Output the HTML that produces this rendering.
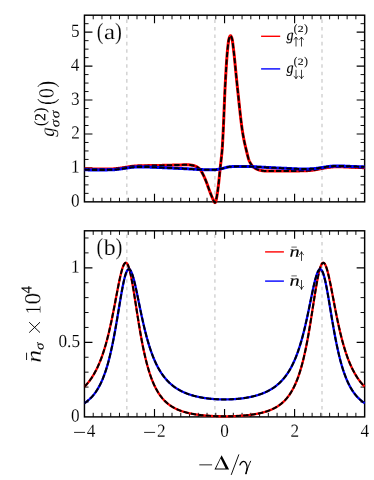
<!DOCTYPE html>
<html><head><meta charset="utf-8"><title>figure</title>
<style>html,body{margin:0;padding:0;background:#fff}body{width:374px;height:480px;overflow:hidden;font-family:"Liberation Serif",serif}</style>
</head><body>
<svg width="374" height="480" viewBox="0 0 374 480" style="display:block">
<rect width="374" height="480" fill="#fff"/>
<defs><clipPath id="ca"><rect x="83.65" y="12.60" width="281.80" height="191.85"/></clipPath><clipPath id="cb"><rect x="83.65" y="228.20" width="281.80" height="191.30"/></clipPath></defs>
<line x1="126.8" y1="201.85" x2="126.8" y2="15.2" stroke="#d2d2d2" stroke-width="1.45" stroke-dasharray="3.55 3.9"/>
<line x1="214.9" y1="201.85" x2="214.9" y2="15.2" stroke="#d2d2d2" stroke-width="1.45" stroke-dasharray="3.55 3.9"/>
<line x1="322.0" y1="201.85" x2="322.0" y2="15.2" stroke="#d2d2d2" stroke-width="1.45" stroke-dasharray="3.55 3.9"/>
<path d="M93.21,201.85 v-4.1 M93.21,15.2 v4.1" stroke="#000" stroke-width="0.95"/>
<path d="M101.96,201.85 v-4.1 M101.96,15.2 v4.1" stroke="#000" stroke-width="0.95"/>
<path d="M110.72,201.85 v-4.1 M110.72,15.2 v4.1" stroke="#000" stroke-width="0.95"/>
<path d="M119.47,201.85 v-4.1 M119.47,15.2 v4.1" stroke="#000" stroke-width="0.95"/>
<path d="M128.23,201.85 v-4.1 M128.23,15.2 v4.1" stroke="#000" stroke-width="0.95"/>
<path d="M136.99,201.85 v-4.1 M136.99,15.2 v4.1" stroke="#000" stroke-width="0.95"/>
<path d="M145.74,201.85 v-4.1 M145.74,15.2 v4.1" stroke="#000" stroke-width="0.95"/>
<path d="M154.50,201.85 v-8.0 M154.50,15.2 v8.0" stroke="#000" stroke-width="1.15"/>
<path d="M163.26,201.85 v-4.1 M163.26,15.2 v4.1" stroke="#000" stroke-width="0.95"/>
<path d="M172.01,201.85 v-4.1 M172.01,15.2 v4.1" stroke="#000" stroke-width="0.95"/>
<path d="M180.77,201.85 v-4.1 M180.77,15.2 v4.1" stroke="#000" stroke-width="0.95"/>
<path d="M189.52,201.85 v-4.1 M189.52,15.2 v4.1" stroke="#000" stroke-width="0.95"/>
<path d="M198.28,201.85 v-4.1 M198.28,15.2 v4.1" stroke="#000" stroke-width="0.95"/>
<path d="M207.04,201.85 v-4.1 M207.04,15.2 v4.1" stroke="#000" stroke-width="0.95"/>
<path d="M215.79,201.85 v-4.1 M215.79,15.2 v4.1" stroke="#000" stroke-width="0.95"/>
<path d="M224.55,201.85 v-8.0 M224.55,15.2 v8.0" stroke="#000" stroke-width="1.15"/>
<path d="M233.31,201.85 v-4.1 M233.31,15.2 v4.1" stroke="#000" stroke-width="0.95"/>
<path d="M242.06,201.85 v-4.1 M242.06,15.2 v4.1" stroke="#000" stroke-width="0.95"/>
<path d="M250.82,201.85 v-4.1 M250.82,15.2 v4.1" stroke="#000" stroke-width="0.95"/>
<path d="M259.57,201.85 v-4.1 M259.57,15.2 v4.1" stroke="#000" stroke-width="0.95"/>
<path d="M268.33,201.85 v-4.1 M268.33,15.2 v4.1" stroke="#000" stroke-width="0.95"/>
<path d="M277.09,201.85 v-4.1 M277.09,15.2 v4.1" stroke="#000" stroke-width="0.95"/>
<path d="M285.84,201.85 v-4.1 M285.84,15.2 v4.1" stroke="#000" stroke-width="0.95"/>
<path d="M294.60,201.85 v-8.0 M294.60,15.2 v8.0" stroke="#000" stroke-width="1.15"/>
<path d="M303.36,201.85 v-4.1 M303.36,15.2 v4.1" stroke="#000" stroke-width="0.95"/>
<path d="M312.11,201.85 v-4.1 M312.11,15.2 v4.1" stroke="#000" stroke-width="0.95"/>
<path d="M320.87,201.85 v-4.1 M320.87,15.2 v4.1" stroke="#000" stroke-width="0.95"/>
<path d="M329.62,201.85 v-4.1 M329.62,15.2 v4.1" stroke="#000" stroke-width="0.95"/>
<path d="M338.38,201.85 v-4.1 M338.38,15.2 v4.1" stroke="#000" stroke-width="0.95"/>
<path d="M347.14,201.85 v-4.1 M347.14,15.2 v4.1" stroke="#000" stroke-width="0.95"/>
<path d="M355.89,201.85 v-4.1 M355.89,15.2 v4.1" stroke="#000" stroke-width="0.95"/>
<path d="M84.45,167.91 h8.0 M364.65,167.91 h-8.0" stroke="#000" stroke-width="1.15"/>
<path d="M84.45,133.98 h8.0 M364.65,133.98 h-8.0" stroke="#000" stroke-width="1.15"/>
<path d="M84.45,100.04 h8.0 M364.65,100.04 h-8.0" stroke="#000" stroke-width="1.15"/>
<path d="M84.45,66.10 h8.0 M364.65,66.10 h-8.0" stroke="#000" stroke-width="1.15"/>
<path d="M84.45,32.17 h8.0 M364.65,32.17 h-8.0" stroke="#000" stroke-width="1.15"/>
<path d="M84.45,193.37 h4.1 M364.65,193.37 h-4.1" stroke="#000" stroke-width="0.95"/>
<path d="M84.45,184.88 h4.1 M364.65,184.88 h-4.1" stroke="#000" stroke-width="0.95"/>
<path d="M84.45,176.40 h4.1 M364.65,176.40 h-4.1" stroke="#000" stroke-width="0.95"/>
<path d="M84.45,159.43 h4.1 M364.65,159.43 h-4.1" stroke="#000" stroke-width="0.95"/>
<path d="M84.45,150.95 h4.1 M364.65,150.95 h-4.1" stroke="#000" stroke-width="0.95"/>
<path d="M84.45,142.46 h4.1 M364.65,142.46 h-4.1" stroke="#000" stroke-width="0.95"/>
<path d="M84.45,125.49 h4.1 M364.65,125.49 h-4.1" stroke="#000" stroke-width="0.95"/>
<path d="M84.45,117.01 h4.1 M364.65,117.01 h-4.1" stroke="#000" stroke-width="0.95"/>
<path d="M84.45,108.52 h4.1 M364.65,108.52 h-4.1" stroke="#000" stroke-width="0.95"/>
<path d="M84.45,91.56 h4.1 M364.65,91.56 h-4.1" stroke="#000" stroke-width="0.95"/>
<path d="M84.45,83.07 h4.1 M364.65,83.07 h-4.1" stroke="#000" stroke-width="0.95"/>
<path d="M84.45,74.59 h4.1 M364.65,74.59 h-4.1" stroke="#000" stroke-width="0.95"/>
<path d="M84.45,57.62 h4.1 M364.65,57.62 h-4.1" stroke="#000" stroke-width="0.95"/>
<path d="M84.45,49.14 h4.1 M364.65,49.14 h-4.1" stroke="#000" stroke-width="0.95"/>
<path d="M84.45,40.65 h4.1 M364.65,40.65 h-4.1" stroke="#000" stroke-width="0.95"/>
<path d="M84.45,23.68 h4.1 M364.65,23.68 h-4.1" stroke="#000" stroke-width="0.95"/>
<rect x="84.45" y="15.2" width="280.20" height="186.65" fill="none" stroke="#000" stroke-width="1.45"/>
<g clip-path="url(#ca)" fill="none" stroke-linejoin="round">
<defs><path id="p60" d="M84.45,168.93 L84.73,168.94 L85.01,168.94 L85.29,168.95 L85.57,168.95 L85.85,168.96 L86.13,168.96 L86.41,168.97 L86.69,168.97 L86.97,168.98 L87.25,168.98 L87.53,168.99 L87.81,168.99 L88.09,169.00 L88.37,169.00 L88.65,169.00 L88.93,169.01 L89.21,169.01 L89.49,169.01 L89.77,169.02 L90.05,169.02 L90.33,169.02 L90.61,169.03 L90.89,169.03 L91.17,169.03 L91.46,169.04 L91.74,169.04 L92.02,169.04 L92.30,169.04 L92.58,169.05 L92.86,169.05 L93.14,169.05 L93.42,169.05 L93.70,169.05 L93.98,169.05 L94.26,169.06 L94.54,169.06 L94.82,169.06 L95.10,169.06 L95.38,169.06 L95.66,169.06 L95.94,169.06 L96.22,169.06 L96.50,169.07 L96.78,169.07 L97.06,169.07 L97.34,169.07 L97.62,169.07 L97.90,169.07 L98.18,169.07 L98.46,169.07 L98.74,169.07 L99.02,169.07 L99.30,169.07 L99.58,169.07 L99.86,169.07 L100.14,169.06 L100.42,169.06 L100.70,169.06 L100.98,169.06 L101.26,169.06 L101.54,169.06 L101.82,169.06 L102.10,169.06 L102.38,169.05 L102.66,169.05 L102.94,169.05 L103.22,169.05 L103.50,169.04 L103.78,169.04 L104.06,169.04 L104.34,169.04 L104.62,169.03 L104.90,169.03 L105.18,169.03 L105.47,169.02 L105.75,169.02 L106.03,169.02 L106.31,169.01 L106.59,169.01 L106.87,169.01 L107.15,169.00 L107.43,169.00 L107.71,168.99 L107.99,168.99 L108.27,168.98 L108.55,168.98 L108.83,168.97 L109.11,168.97 L109.39,168.96 L109.67,168.96 L109.95,168.95 L110.23,168.95 L110.51,168.94 L110.79,168.94 L111.07,168.93 L111.35,168.92 L111.63,168.92 L111.91,168.91 L112.19,168.90 L112.47,168.90 L112.75,168.89 L113.03,168.88 L113.31,168.87 L113.59,168.85 L113.87,168.83 L114.15,168.81 L114.43,168.79 L114.71,168.77 L114.99,168.74 L115.27,168.71 L115.55,168.69 L115.83,168.66 L116.11,168.63 L116.39,168.59 L116.67,168.56 L116.95,168.53 L117.23,168.49 L117.51,168.46 L117.79,168.42 L118.07,168.39 L118.35,168.36 L118.63,168.32 L118.91,168.29 L119.19,168.25 L119.47,168.22 L119.76,168.19 L120.04,168.15 L120.32,168.11 L120.60,168.08 L120.88,168.04 L121.16,168.00 L121.44,167.96 L121.72,167.91 L122.00,167.87 L122.28,167.83 L122.56,167.79 L122.84,167.74 L123.12,167.70 L123.40,167.65 L123.68,167.61 L123.96,167.56 L124.24,167.52 L124.52,167.47 L124.80,167.43 L125.08,167.38 L125.36,167.34 L125.64,167.29 L125.92,167.25 L126.20,167.21 L126.48,167.17 L126.76,167.13 L127.04,167.08 L127.32,167.04 L127.60,166.99 L127.88,166.95 L128.16,166.90 L128.44,166.85 L128.72,166.81 L129.00,166.76 L129.28,166.72 L129.56,166.67 L129.84,166.62 L130.12,166.58 L130.40,166.53 L130.68,166.49 L130.96,166.45 L131.24,166.41 L131.52,166.37 L131.80,166.33 L132.08,166.30 L132.36,166.26 L132.64,166.23 L132.92,166.20 L133.20,166.17 L133.49,166.15 L133.77,166.13 L134.05,166.10 L134.33,166.08 L134.61,166.06 L134.89,166.04 L135.17,166.02 L135.45,166.00 L135.73,165.98 L136.01,165.96 L136.29,165.94 L136.57,165.92 L136.85,165.90 L137.13,165.89 L137.41,165.87 L137.69,165.85 L137.97,165.84 L138.25,165.83 L138.53,165.81 L138.81,165.80 L139.09,165.79 L139.37,165.78 L139.65,165.77 L139.93,165.76 L140.21,165.75 L140.49,165.74 L140.77,165.73 L141.05,165.73 L141.33,165.72 L141.61,165.72 L141.89,165.71 L142.17,165.70 L142.45,165.70 L142.73,165.69 L143.01,165.69 L143.29,165.68 L143.57,165.68 L143.85,165.67 L144.13,165.67 L144.41,165.67 L144.69,165.66 L144.97,165.66 L145.25,165.65 L145.53,165.65 L145.81,165.65 L146.09,165.64 L146.37,165.64 L146.65,165.64 L146.93,165.63 L147.21,165.63 L147.50,165.63 L147.78,165.62 L148.06,165.62 L148.34,165.62 L148.62,165.62 L148.90,165.61 L149.18,165.61 L149.46,165.61 L149.74,165.60 L150.02,165.60 L150.30,165.60 L150.58,165.59 L150.86,165.59 L151.14,165.59 L151.42,165.58 L151.70,165.58 L151.98,165.58 L152.26,165.57 L152.54,165.57 L152.82,165.56 L153.10,165.56 L153.38,165.56 L153.66,165.55 L153.94,165.55 L154.22,165.54 L154.50,165.54 L154.78,165.53 L155.06,165.53 L155.34,165.52 L155.62,165.52 L155.90,165.51 L156.18,165.51 L156.46,165.50 L156.74,165.50 L157.02,165.49 L157.30,165.48 L157.58,165.48 L157.86,165.47 L158.14,165.47 L158.42,165.46 L158.70,165.45 L158.98,165.45 L159.26,165.44 L159.54,165.43 L159.82,165.43 L160.10,165.42 L160.38,165.41 L160.66,165.41 L160.94,165.40 L161.22,165.39 L161.50,165.39 L161.79,165.38 L162.07,165.37 L162.35,165.37 L162.63,165.36 L162.91,165.35 L163.19,165.35 L163.47,165.34 L163.75,165.33 L164.03,165.32 L164.31,165.32 L164.59,165.31 L164.87,165.30 L165.15,165.30 L165.43,165.29 L165.71,165.28 L165.99,165.28 L166.27,165.27 L166.55,165.26 L166.83,165.25 L167.11,165.25 L167.39,165.24 L167.67,165.23 L167.95,165.23 L168.23,165.22 L168.51,165.21 L168.79,165.21 L169.07,165.20 L169.35,165.19 L169.63,165.19 L169.91,165.18 L170.19,165.17 L170.47,165.17 L170.75,165.16 L171.03,165.15 L171.31,165.15 L171.59,165.14 L171.87,165.13 L172.15,165.13 L172.43,165.12 L172.71,165.11 L172.99,165.11 L173.27,165.10 L173.55,165.09 L173.83,165.09 L174.11,165.08 L174.39,165.07 L174.67,165.07 L174.95,165.06 L175.23,165.05 L175.51,165.04 L175.80,165.03 L176.08,165.03 L176.36,165.02 L176.64,165.01 L176.92,165.00 L177.20,165.00 L177.48,164.99 L177.76,164.98 L178.04,164.97 L178.32,164.96 L178.60,164.96 L178.88,164.95 L179.16,164.94 L179.44,164.93 L179.72,164.93 L180.00,164.92 L180.28,164.91 L180.56,164.90 L180.84,164.90 L181.12,164.89 L181.40,164.88 L181.68,164.88 L181.96,164.87 L182.24,164.86 L182.52,164.86 L182.80,164.85 L183.08,164.85 L183.36,164.84 L183.64,164.84 L183.92,164.83 L184.20,164.83 L184.48,164.82 L184.76,164.82 L185.04,164.81 L185.32,164.81 L185.60,164.81 L185.88,164.80 L186.16,164.80 L186.44,164.80 L186.72,164.80 L187.00,164.79 L187.28,164.79 L187.56,164.79 L187.84,164.79 L188.12,164.79 L188.40,164.80 L188.68,164.81 L188.96,164.82 L189.24,164.84 L189.52,164.87 L189.81,164.90 L190.09,164.94 L190.37,164.98 L190.65,165.03 L190.93,165.07 L191.21,165.12 L191.49,165.17 L191.77,165.23 L192.05,165.28 L192.33,165.33 L192.61,165.39 L192.89,165.44 L193.17,165.50 L193.45,165.56 L193.73,165.62 L194.01,165.69 L194.29,165.77 L194.57,165.85 L194.85,165.95 L195.13,166.05 L195.41,166.16 L195.69,166.28 L195.97,166.40 L196.25,166.54 L196.53,166.69 L196.81,166.84 L197.09,167.01 L197.37,167.18 L197.65,167.37 L197.93,167.56 L198.21,167.76 L198.49,167.98 L198.77,168.20 L199.05,168.44 L199.33,168.68 L199.61,168.93 L199.89,169.21 L200.17,169.54 L200.45,169.91 L200.73,170.32 L201.01,170.76 L201.29,171.23 L201.57,171.72 L201.85,172.22 L202.13,172.74 L202.41,173.27 L202.69,173.80 L202.97,174.32 L203.25,174.87 L203.53,175.43 L203.82,176.02 L204.10,176.63 L204.38,177.26 L204.66,177.90 L204.94,178.55 L205.22,179.22 L205.50,179.89 L205.78,180.58 L206.06,181.27 L206.34,181.97 L206.62,182.71 L206.90,183.47 L207.18,184.25 L207.46,185.04 L207.74,185.84 L208.02,186.64 L208.30,187.44 L208.58,188.23 L208.86,189.01 L209.14,189.77 L209.42,190.51 L209.70,191.24 L209.98,191.97 L210.26,192.69 L210.54,193.41 L210.82,194.12 L211.10,194.83 L211.38,195.52 L211.66,196.20 L211.94,196.88 L212.22,197.54 L212.50,198.18 L212.78,198.84 L213.06,199.50 L213.34,200.15 L213.62,200.76 L213.90,201.32 L214.18,201.80 L214.46,202.24 L214.74,202.61 L215.02,202.67 L215.30,202.38 L215.58,201.91 L215.86,201.24 L216.14,200.18 L216.42,198.82 L216.70,197.24 L216.98,195.54 L217.26,193.80 L217.55,192.01 L217.83,190.00 L218.11,187.81 L218.39,185.47 L218.67,183.03 L218.95,180.54 L219.23,177.86 L219.51,174.97 L219.79,172.05 L220.07,169.27 L220.35,166.71 L220.63,164.27 L220.91,161.86 L221.19,159.37 L221.47,156.78 L221.75,154.20 L222.03,151.29 L222.31,147.61 L222.59,142.98 L222.87,137.75 L223.15,132.28 L223.43,126.42 L223.71,119.94 L223.99,113.09 L224.27,106.10 L224.55,99.22 L224.83,92.69 L225.11,86.76 L225.39,81.55 L225.67,76.54 L225.95,71.69 L226.23,67.05 L226.51,62.67 L226.79,58.60 L227.07,54.90 L227.35,51.62 L227.63,48.79 L227.91,46.13 L228.19,43.66 L228.47,41.52 L228.75,39.81 L229.03,38.67 L229.31,37.81 L229.59,37.03 L229.87,36.40 L230.15,35.95 L230.43,35.74 L230.71,35.81 L230.99,36.12 L231.27,36.62 L231.56,37.28 L231.84,38.04 L232.12,38.95 L232.40,40.44 L232.68,42.42 L232.96,44.70 L233.24,47.09 L233.52,49.42 L233.80,51.78 L234.08,54.29 L234.36,56.93 L234.64,59.68 L234.92,62.50 L235.20,65.37 L235.48,68.28 L235.76,71.20 L236.04,74.09 L236.32,76.95 L236.60,79.75 L236.88,82.45 L237.16,85.06 L237.44,87.67 L237.72,90.31 L238.00,92.97 L238.28,95.64 L238.56,98.32 L238.84,100.99 L239.12,103.64 L239.40,106.28 L239.68,108.89 L239.96,111.46 L240.24,113.98 L240.52,116.45 L240.80,118.86 L241.08,121.20 L241.36,123.46 L241.64,125.63 L241.92,127.71 L242.20,129.69 L242.48,131.55 L242.76,133.30 L243.04,134.94 L243.32,136.52 L243.60,138.02 L243.88,139.46 L244.16,140.85 L244.44,142.19 L244.72,143.48 L245.00,144.73 L245.28,145.95 L245.56,147.14 L245.85,148.31 L246.13,149.46 L246.41,150.60 L246.69,151.77 L246.97,152.94 L247.25,154.10 L247.53,155.24 L247.81,156.35 L248.09,157.40 L248.37,158.39 L248.65,159.30 L248.93,160.11 L249.21,160.82 L249.49,161.40 L249.77,161.93 L250.05,162.43 L250.33,162.92 L250.61,163.38 L250.89,163.82 L251.17,164.24 L251.45,164.65 L251.73,165.03 L252.01,165.39 L252.29,165.73 L252.57,166.05 L252.85,166.36 L253.13,166.65 L253.41,166.91 L253.69,167.17 L253.97,167.40 L254.25,167.62 L254.53,167.82 L254.81,168.01 L255.09,168.18 L255.37,168.35 L255.65,168.52 L255.93,168.68 L256.21,168.83 L256.49,168.97 L256.77,169.11 L257.05,169.24 L257.33,169.36 L257.61,169.48 L257.89,169.59 L258.17,169.69 L258.45,169.79 L258.73,169.88 L259.01,169.97 L259.29,170.05 L259.57,170.12 L259.86,170.19 L260.14,170.26 L260.42,170.33 L260.70,170.39 L260.98,170.46 L261.26,170.52 L261.54,170.58 L261.82,170.63 L262.10,170.68 L262.38,170.73 L262.66,170.77 L262.94,170.81 L263.22,170.84 L263.50,170.87 L263.78,170.89 L264.06,170.90 L264.34,170.90 L264.62,170.91 L264.90,170.91 L265.18,170.92 L265.46,170.92 L265.74,170.93 L266.02,170.93 L266.30,170.94 L266.58,170.94 L266.86,170.95 L267.14,170.95 L267.42,170.95 L267.70,170.96 L267.98,170.96 L268.26,170.97 L268.54,170.97 L268.82,170.97 L269.10,170.98 L269.38,170.98 L269.66,170.98 L269.94,170.99 L270.22,170.99 L270.50,170.99 L270.78,170.99 L271.06,171.00 L271.34,171.00 L271.62,171.00 L271.90,171.00 L272.18,171.01 L272.46,171.01 L272.74,171.01 L273.02,171.01 L273.30,171.01 L273.58,171.02 L273.87,171.02 L274.15,171.02 L274.43,171.02 L274.71,171.02 L274.99,171.02 L275.27,171.02 L275.55,171.03 L275.83,171.03 L276.11,171.03 L276.39,171.03 L276.67,171.03 L276.95,171.03 L277.23,171.03 L277.51,171.03 L277.79,171.03 L278.07,171.03 L278.35,171.03 L278.63,171.03 L278.91,171.03 L279.19,171.04 L279.47,171.04 L279.75,171.04 L280.03,171.04 L280.31,171.04 L280.59,171.04 L280.87,171.04 L281.15,171.04 L281.43,171.04 L281.71,171.04 L281.99,171.03 L282.27,171.03 L282.55,171.03 L282.83,171.03 L283.11,171.03 L283.39,171.03 L283.67,171.03 L283.95,171.03 L284.23,171.03 L284.51,171.03 L284.79,171.03 L285.07,171.03 L285.35,171.03 L285.63,171.02 L285.91,171.02 L286.19,171.02 L286.47,171.02 L286.75,171.02 L287.03,171.02 L287.31,171.02 L287.59,171.01 L287.88,171.01 L288.16,171.01 L288.44,171.01 L288.72,171.01 L289.00,171.01 L289.28,171.00 L289.56,171.00 L289.84,171.00 L290.12,171.00 L290.40,170.99 L290.68,170.99 L290.96,170.99 L291.24,170.99 L291.52,170.98 L291.80,170.98 L292.08,170.98 L292.36,170.98 L292.64,170.97 L292.92,170.97 L293.20,170.97 L293.48,170.96 L293.76,170.96 L294.04,170.96 L294.32,170.95 L294.60,170.95 L294.88,170.95 L295.16,170.94 L295.44,170.94 L295.72,170.94 L296.00,170.93 L296.28,170.93 L296.56,170.93 L296.84,170.92 L297.12,170.92 L297.40,170.91 L297.68,170.91 L297.96,170.91 L298.24,170.90 L298.52,170.90 L298.80,170.89 L299.08,170.89 L299.36,170.88 L299.64,170.88 L299.92,170.87 L300.20,170.87 L300.48,170.86 L300.76,170.86 L301.04,170.86 L301.32,170.85 L301.61,170.85 L301.89,170.84 L302.17,170.83 L302.45,170.83 L302.73,170.82 L303.01,170.82 L303.29,170.81 L303.57,170.81 L303.85,170.80 L304.13,170.80 L304.41,170.79 L304.69,170.78 L304.97,170.77 L305.25,170.76 L305.53,170.75 L305.81,170.74 L306.09,170.72 L306.37,170.71 L306.65,170.69 L306.93,170.67 L307.21,170.65 L307.49,170.63 L307.77,170.61 L308.05,170.59 L308.33,170.57 L308.61,170.55 L308.89,170.53 L309.17,170.50 L309.45,170.48 L309.73,170.45 L310.01,170.43 L310.29,170.40 L310.57,170.37 L310.85,170.35 L311.13,170.32 L311.41,170.29 L311.69,170.26 L311.97,170.24 L312.25,170.21 L312.53,170.18 L312.81,170.14 L313.09,170.11 L313.37,170.07 L313.65,170.03 L313.93,169.99 L314.21,169.94 L314.49,169.90 L314.77,169.85 L315.05,169.80 L315.33,169.75 L315.62,169.70 L315.90,169.65 L316.18,169.59 L316.46,169.54 L316.74,169.48 L317.02,169.43 L317.30,169.37 L317.58,169.31 L317.86,169.26 L318.14,169.20 L318.42,169.14 L318.70,169.08 L318.98,169.02 L319.26,168.96 L319.54,168.91 L319.82,168.85 L320.10,168.79 L320.38,168.74 L320.66,168.68 L320.94,168.63 L321.22,168.57 L321.50,168.52 L321.78,168.47 L322.06,168.42 L322.34,168.37 L322.62,168.32 L322.90,168.27 L323.18,168.23 L323.46,168.18 L323.74,168.13 L324.02,168.08 L324.30,168.03 L324.58,167.98 L324.86,167.94 L325.14,167.89 L325.42,167.84 L325.70,167.79 L325.98,167.74 L326.26,167.70 L326.54,167.65 L326.82,167.61 L327.10,167.56 L327.38,167.52 L327.66,167.48 L327.94,167.44 L328.22,167.40 L328.50,167.36 L328.78,167.33 L329.06,167.30 L329.34,167.26 L329.62,167.23 L329.91,167.21 L330.19,167.18 L330.47,167.15 L330.75,167.12 L331.03,167.09 L331.31,167.06 L331.59,167.03 L331.87,167.01 L332.15,166.98 L332.43,166.95 L332.71,166.92 L332.99,166.90 L333.27,166.87 L333.55,166.85 L333.83,166.83 L334.11,166.81 L334.39,166.79 L334.67,166.77 L334.95,166.75 L335.23,166.74 L335.51,166.72 L335.79,166.71 L336.07,166.70 L336.35,166.70 L336.63,166.69 L336.91,166.69 L337.19,166.69 L337.47,166.69 L337.75,166.70 L338.03,166.70 L338.31,166.70 L338.59,166.71 L338.87,166.71 L339.15,166.72 L339.43,166.72 L339.71,166.73 L339.99,166.74 L340.27,166.74 L340.55,166.75 L340.83,166.76 L341.11,166.77 L341.39,166.78 L341.67,166.79 L341.95,166.80 L342.23,166.81 L342.51,166.83 L342.79,166.84 L343.07,166.85 L343.35,166.86 L343.63,166.88 L343.92,166.89 L344.20,166.90 L344.48,166.92 L344.76,166.93 L345.04,166.94 L345.32,166.96 L345.60,166.97 L345.88,166.98 L346.16,167.00 L346.44,167.01 L346.72,167.03 L347.00,167.04 L347.28,167.05 L347.56,167.07 L347.84,167.08 L348.12,167.09 L348.40,167.11 L348.68,167.12 L348.96,167.13 L349.24,167.14 L349.52,167.16 L349.80,167.17 L350.08,167.18 L350.36,167.19 L350.64,167.20 L350.92,167.21 L351.20,167.22 L351.48,167.23 L351.76,167.24 L352.04,167.25 L352.32,167.26 L352.60,167.27 L352.88,167.28 L353.16,167.29 L353.44,167.30 L353.72,167.31 L354.00,167.32 L354.28,167.33 L354.56,167.34 L354.84,167.36 L355.12,167.37 L355.40,167.38 L355.68,167.39 L355.96,167.40 L356.24,167.41 L356.52,167.42 L356.80,167.43 L357.08,167.44 L357.36,167.45 L357.64,167.46 L357.93,167.47 L358.21,167.48 L358.49,167.49 L358.77,167.50 L359.05,167.51 L359.33,167.52 L359.61,167.53 L359.89,167.54 L360.17,167.55 L360.45,167.56 L360.73,167.57 L361.01,167.58 L361.29,167.59 L361.57,167.60 L361.85,167.61 L362.13,167.62 L362.41,167.63 L362.69,167.64 L362.97,167.65 L363.25,167.66 L363.53,167.67 L363.81,167.68 L364.09,167.69 L364.37,167.70 L364.65,167.71"/></defs>
<use href="#p60" stroke="#ff0000" stroke-width="3.0"/>
<use href="#p60" stroke="#000" stroke-width="1.95" stroke-dasharray="5.35 2.15"/>
<defs><path id="p63" d="M84.45,169.81 L84.73,169.82 L85.01,169.83 L85.29,169.83 L85.57,169.84 L85.85,169.84 L86.13,169.85 L86.41,169.85 L86.69,169.86 L86.97,169.86 L87.25,169.87 L87.53,169.87 L87.81,169.87 L88.09,169.88 L88.37,169.88 L88.65,169.89 L88.93,169.89 L89.21,169.89 L89.49,169.90 L89.77,169.90 L90.05,169.90 L90.33,169.91 L90.61,169.91 L90.89,169.91 L91.17,169.92 L91.46,169.92 L91.74,169.92 L92.02,169.92 L92.30,169.93 L92.58,169.93 L92.86,169.93 L93.14,169.93 L93.42,169.93 L93.70,169.94 L93.98,169.94 L94.26,169.94 L94.54,169.94 L94.82,169.94 L95.10,169.94 L95.38,169.94 L95.66,169.94 L95.94,169.95 L96.22,169.95 L96.50,169.95 L96.78,169.95 L97.06,169.95 L97.34,169.95 L97.62,169.95 L97.90,169.95 L98.18,169.95 L98.46,169.95 L98.74,169.95 L99.02,169.95 L99.30,169.95 L99.58,169.95 L99.86,169.95 L100.14,169.95 L100.42,169.95 L100.70,169.95 L100.98,169.94 L101.26,169.94 L101.54,169.94 L101.82,169.94 L102.10,169.94 L102.38,169.94 L102.66,169.93 L102.94,169.93 L103.22,169.93 L103.50,169.93 L103.78,169.92 L104.06,169.92 L104.34,169.92 L104.62,169.92 L104.90,169.91 L105.18,169.91 L105.47,169.91 L105.75,169.90 L106.03,169.90 L106.31,169.90 L106.59,169.89 L106.87,169.89 L107.15,169.88 L107.43,169.88 L107.71,169.87 L107.99,169.87 L108.27,169.87 L108.55,169.86 L108.83,169.86 L109.11,169.85 L109.39,169.85 L109.67,169.84 L109.95,169.83 L110.23,169.83 L110.51,169.82 L110.79,169.82 L111.07,169.81 L111.35,169.81 L111.63,169.80 L111.91,169.79 L112.19,169.79 L112.47,169.78 L112.75,169.77 L113.03,169.76 L113.31,169.75 L113.59,169.73 L113.87,169.71 L114.15,169.69 L114.43,169.67 L114.71,169.65 L114.99,169.62 L115.27,169.60 L115.55,169.57 L115.83,169.54 L116.11,169.51 L116.39,169.47 L116.67,169.44 L116.95,169.41 L117.23,169.37 L117.51,169.34 L117.79,169.31 L118.07,169.27 L118.35,169.24 L118.63,169.20 L118.91,169.17 L119.19,169.13 L119.47,169.10 L119.76,169.07 L120.04,169.03 L120.32,169.00 L120.60,168.96 L120.88,168.92 L121.16,168.88 L121.44,168.84 L121.72,168.80 L122.00,168.76 L122.28,168.72 L122.56,168.68 L122.84,168.63 L123.12,168.59 L123.40,168.55 L123.68,168.50 L123.96,168.46 L124.24,168.42 L124.52,168.37 L124.80,168.33 L125.08,168.29 L125.36,168.24 L125.64,168.20 L125.92,168.16 L126.20,168.12 L126.48,168.08 L126.76,168.04 L127.04,168.00 L127.32,167.96 L127.60,167.92 L127.88,167.88 L128.16,167.83 L128.44,167.79 L128.72,167.75 L129.00,167.71 L129.28,167.66 L129.56,167.62 L129.84,167.58 L130.12,167.54 L130.40,167.50 L130.68,167.46 L130.96,167.42 L131.24,167.38 L131.52,167.35 L131.80,167.32 L132.08,167.29 L132.36,167.26 L132.64,167.23 L132.92,167.21 L133.20,167.19 L133.49,167.17 L133.77,167.15 L134.05,167.13 L134.33,167.12 L134.61,167.10 L134.89,167.09 L135.17,167.07 L135.45,167.05 L135.73,167.04 L136.01,167.03 L136.29,167.01 L136.57,167.00 L136.85,166.99 L137.13,166.97 L137.41,166.96 L137.69,166.95 L137.97,166.94 L138.25,166.93 L138.53,166.92 L138.81,166.92 L139.09,166.91 L139.37,166.91 L139.65,166.90 L139.93,166.90 L140.21,166.90 L140.49,166.90 L140.77,166.90 L141.05,166.90 L141.33,166.90 L141.61,166.90 L141.89,166.90 L142.17,166.91 L142.45,166.91 L142.73,166.91 L143.01,166.92 L143.29,166.92 L143.57,166.93 L143.85,166.93 L144.13,166.94 L144.41,166.95 L144.69,166.95 L144.97,166.96 L145.25,166.97 L145.53,166.98 L145.81,166.98 L146.09,166.99 L146.37,167.00 L146.65,167.01 L146.93,167.02 L147.21,167.03 L147.50,167.04 L147.78,167.05 L148.06,167.06 L148.34,167.07 L148.62,167.08 L148.90,167.09 L149.18,167.10 L149.46,167.11 L149.74,167.12 L150.02,167.13 L150.30,167.14 L150.58,167.15 L150.86,167.16 L151.14,167.18 L151.42,167.19 L151.70,167.20 L151.98,167.21 L152.26,167.22 L152.54,167.23 L152.82,167.24 L153.10,167.25 L153.38,167.26 L153.66,167.27 L153.94,167.28 L154.22,167.29 L154.50,167.30 L154.78,167.31 L155.06,167.32 L155.34,167.33 L155.62,167.34 L155.90,167.35 L156.18,167.36 L156.46,167.37 L156.74,167.39 L157.02,167.40 L157.30,167.41 L157.58,167.42 L157.86,167.43 L158.14,167.44 L158.42,167.45 L158.70,167.47 L158.98,167.48 L159.26,167.49 L159.54,167.50 L159.82,167.51 L160.10,167.53 L160.38,167.54 L160.66,167.55 L160.94,167.56 L161.22,167.57 L161.50,167.59 L161.79,167.60 L162.07,167.61 L162.35,167.63 L162.63,167.64 L162.91,167.65 L163.19,167.66 L163.47,167.68 L163.75,167.69 L164.03,167.70 L164.31,167.72 L164.59,167.73 L164.87,167.74 L165.15,167.76 L165.43,167.77 L165.71,167.78 L165.99,167.80 L166.27,167.81 L166.55,167.82 L166.83,167.84 L167.11,167.85 L167.39,167.86 L167.67,167.88 L167.95,167.89 L168.23,167.90 L168.51,167.92 L168.79,167.93 L169.07,167.94 L169.35,167.96 L169.63,167.97 L169.91,167.98 L170.19,168.00 L170.47,168.01 L170.75,168.02 L171.03,168.04 L171.31,168.05 L171.59,168.06 L171.87,168.08 L172.15,168.09 L172.43,168.10 L172.71,168.12 L172.99,168.13 L173.27,168.14 L173.55,168.15 L173.83,168.17 L174.11,168.18 L174.39,168.19 L174.67,168.21 L174.95,168.22 L175.23,168.23 L175.51,168.25 L175.80,168.26 L176.08,168.27 L176.36,168.28 L176.64,168.30 L176.92,168.31 L177.20,168.32 L177.48,168.34 L177.76,168.35 L178.04,168.36 L178.32,168.38 L178.60,168.39 L178.88,168.40 L179.16,168.42 L179.44,168.43 L179.72,168.44 L180.00,168.46 L180.28,168.47 L180.56,168.48 L180.84,168.50 L181.12,168.51 L181.40,168.52 L181.68,168.54 L181.96,168.55 L182.24,168.56 L182.52,168.58 L182.80,168.59 L183.08,168.60 L183.36,168.62 L183.64,168.63 L183.92,168.65 L184.20,168.66 L184.48,168.67 L184.76,168.69 L185.04,168.70 L185.32,168.71 L185.60,168.73 L185.88,168.74 L186.16,168.76 L186.44,168.77 L186.72,168.79 L187.00,168.80 L187.28,168.81 L187.56,168.83 L187.84,168.84 L188.12,168.86 L188.40,168.87 L188.68,168.89 L188.96,168.90 L189.24,168.92 L189.52,168.93 L189.81,168.95 L190.09,168.96 L190.37,168.98 L190.65,169.00 L190.93,169.01 L191.21,169.03 L191.49,169.05 L191.77,169.07 L192.05,169.09 L192.33,169.10 L192.61,169.12 L192.89,169.14 L193.17,169.16 L193.45,169.18 L193.73,169.20 L194.01,169.22 L194.29,169.24 L194.57,169.26 L194.85,169.28 L195.13,169.30 L195.41,169.31 L195.69,169.33 L195.97,169.35 L196.25,169.37 L196.53,169.38 L196.81,169.40 L197.09,169.42 L197.37,169.43 L197.65,169.45 L197.93,169.46 L198.21,169.47 L198.49,169.49 L198.77,169.50 L199.05,169.51 L199.33,169.52 L199.61,169.53 L199.89,169.54 L200.17,169.55 L200.45,169.55 L200.73,169.56 L201.01,169.57 L201.29,169.58 L201.57,169.58 L201.85,169.59 L202.13,169.60 L202.41,169.61 L202.69,169.61 L202.97,169.62 L203.25,169.63 L203.53,169.63 L203.82,169.64 L204.10,169.65 L204.38,169.65 L204.66,169.66 L204.94,169.67 L205.22,169.67 L205.50,169.68 L205.78,169.68 L206.06,169.69 L206.34,169.70 L206.62,169.70 L206.90,169.71 L207.18,169.71 L207.46,169.72 L207.74,169.72 L208.02,169.73 L208.30,169.73 L208.58,169.73 L208.86,169.74 L209.14,169.74 L209.42,169.75 L209.70,169.75 L209.98,169.75 L210.26,169.76 L210.54,169.76 L210.82,169.76 L211.10,169.77 L211.38,169.77 L211.66,169.77 L211.94,169.77 L212.22,169.77 L212.50,169.78 L212.78,169.78 L213.06,169.78 L213.34,169.78 L213.62,169.78 L213.90,169.78 L214.18,169.78 L214.46,169.77 L214.74,169.76 L215.02,169.75 L215.30,169.73 L215.58,169.70 L215.86,169.67 L216.14,169.64 L216.42,169.60 L216.70,169.56 L216.98,169.52 L217.26,169.47 L217.55,169.42 L217.83,169.37 L218.11,169.32 L218.39,169.27 L218.67,169.22 L218.95,169.16 L219.23,169.11 L219.51,169.05 L219.79,169.00 L220.07,168.94 L220.35,168.89 L220.63,168.84 L220.91,168.79 L221.19,168.74 L221.47,168.68 L221.75,168.63 L222.03,168.57 L222.31,168.50 L222.59,168.44 L222.87,168.37 L223.15,168.30 L223.43,168.22 L223.71,168.15 L223.99,168.07 L224.27,167.99 L224.55,167.91 L224.83,167.84 L225.11,167.76 L225.39,167.68 L225.67,167.60 L225.95,167.53 L226.23,167.45 L226.51,167.38 L226.79,167.31 L227.07,167.24 L227.35,167.17 L227.63,167.11 L227.91,167.05 L228.19,166.99 L228.47,166.94 L228.75,166.89 L229.03,166.85 L229.31,166.81 L229.59,166.78 L229.87,166.75 L230.15,166.73 L230.43,166.71 L230.71,166.69 L230.99,166.67 L231.27,166.65 L231.56,166.63 L231.84,166.62 L232.12,166.60 L232.40,166.58 L232.68,166.57 L232.96,166.55 L233.24,166.54 L233.52,166.52 L233.80,166.51 L234.08,166.50 L234.36,166.48 L234.64,166.47 L234.92,166.46 L235.20,166.45 L235.48,166.44 L235.76,166.43 L236.04,166.42 L236.32,166.42 L236.60,166.41 L236.88,166.40 L237.16,166.40 L237.44,166.39 L237.72,166.39 L238.00,166.39 L238.28,166.39 L238.56,166.39 L238.84,166.39 L239.12,166.39 L239.40,166.39 L239.68,166.39 L239.96,166.39 L240.24,166.39 L240.52,166.39 L240.80,166.40 L241.08,166.40 L241.36,166.40 L241.64,166.41 L241.92,166.41 L242.20,166.41 L242.48,166.42 L242.76,166.42 L243.04,166.42 L243.32,166.43 L243.60,166.43 L243.88,166.44 L244.16,166.44 L244.44,166.45 L244.72,166.45 L245.00,166.46 L245.28,166.46 L245.56,166.47 L245.85,166.48 L246.13,166.48 L246.41,166.49 L246.69,166.49 L246.97,166.50 L247.25,166.51 L247.53,166.51 L247.81,166.52 L248.09,166.53 L248.37,166.53 L248.65,166.54 L248.93,166.54 L249.21,166.55 L249.49,166.56 L249.77,166.56 L250.05,166.57 L250.33,166.58 L250.61,166.59 L250.89,166.60 L251.17,166.61 L251.45,166.61 L251.73,166.62 L252.01,166.63 L252.29,166.65 L252.57,166.66 L252.85,166.67 L253.13,166.68 L253.41,166.69 L253.69,166.70 L253.97,166.72 L254.25,166.73 L254.53,166.74 L254.81,166.76 L255.09,166.77 L255.37,166.78 L255.65,166.80 L255.93,166.81 L256.21,166.83 L256.49,166.84 L256.77,166.86 L257.05,166.87 L257.33,166.89 L257.61,166.90 L257.89,166.92 L258.17,166.93 L258.45,166.95 L258.73,166.97 L259.01,166.98 L259.29,167.00 L259.57,167.01 L259.86,167.03 L260.14,167.05 L260.42,167.06 L260.70,167.08 L260.98,167.10 L261.26,167.11 L261.54,167.13 L261.82,167.14 L262.10,167.16 L262.38,167.18 L262.66,167.19 L262.94,167.21 L263.22,167.23 L263.50,167.24 L263.78,167.26 L264.06,167.27 L264.34,167.29 L264.62,167.30 L264.90,167.32 L265.18,167.33 L265.46,167.35 L265.74,167.36 L266.02,167.38 L266.30,167.39 L266.58,167.40 L266.86,167.42 L267.14,167.43 L267.42,167.45 L267.70,167.46 L267.98,167.47 L268.26,167.49 L268.54,167.50 L268.82,167.52 L269.10,167.53 L269.38,167.54 L269.66,167.56 L269.94,167.57 L270.22,167.59 L270.50,167.60 L270.78,167.61 L271.06,167.63 L271.34,167.64 L271.62,167.66 L271.90,167.67 L272.18,167.68 L272.46,167.70 L272.74,167.71 L273.02,167.73 L273.30,167.74 L273.58,167.76 L273.87,167.77 L274.15,167.78 L274.43,167.80 L274.71,167.81 L274.99,167.83 L275.27,167.84 L275.55,167.85 L275.83,167.87 L276.11,167.88 L276.39,167.90 L276.67,167.91 L276.95,167.92 L277.23,167.94 L277.51,167.95 L277.79,167.96 L278.07,167.98 L278.35,167.99 L278.63,168.00 L278.91,168.02 L279.19,168.03 L279.47,168.04 L279.75,168.06 L280.03,168.07 L280.31,168.08 L280.59,168.10 L280.87,168.11 L281.15,168.12 L281.43,168.14 L281.71,168.15 L281.99,168.16 L282.27,168.17 L282.55,168.19 L282.83,168.20 L283.11,168.21 L283.39,168.22 L283.67,168.24 L283.95,168.25 L284.23,168.26 L284.51,168.27 L284.79,168.28 L285.07,168.30 L285.35,168.31 L285.63,168.32 L285.91,168.33 L286.19,168.35 L286.47,168.36 L286.75,168.37 L287.03,168.39 L287.31,168.40 L287.59,168.41 L287.88,168.43 L288.16,168.44 L288.44,168.46 L288.72,168.47 L289.00,168.48 L289.28,168.50 L289.56,168.51 L289.84,168.53 L290.12,168.54 L290.40,168.55 L290.68,168.57 L290.96,168.58 L291.24,168.60 L291.52,168.61 L291.80,168.62 L292.08,168.64 L292.36,168.65 L292.64,168.66 L292.92,168.68 L293.20,168.69 L293.48,168.70 L293.76,168.72 L294.04,168.73 L294.32,168.74 L294.60,168.76 L294.88,168.77 L295.16,168.78 L295.44,168.79 L295.72,168.80 L296.00,168.82 L296.28,168.83 L296.56,168.84 L296.84,168.85 L297.12,168.86 L297.40,168.87 L297.68,168.88 L297.96,168.89 L298.24,168.90 L298.52,168.91 L298.80,168.91 L299.08,168.92 L299.36,168.93 L299.64,168.94 L299.92,168.95 L300.20,168.95 L300.48,168.96 L300.76,168.96 L301.04,168.97 L301.32,168.98 L301.61,168.98 L301.89,168.98 L302.17,168.99 L302.45,168.99 L302.73,168.99 L303.01,169.00 L303.29,169.00 L303.57,169.00 L303.85,169.00 L304.13,169.00 L304.41,169.00 L304.69,169.00 L304.97,169.00 L305.25,168.99 L305.53,168.99 L305.81,168.98 L306.09,168.98 L306.37,168.97 L306.65,168.97 L306.93,168.96 L307.21,168.95 L307.49,168.95 L307.77,168.94 L308.05,168.93 L308.33,168.92 L308.61,168.91 L308.89,168.90 L309.17,168.89 L309.45,168.88 L309.73,168.87 L310.01,168.86 L310.29,168.84 L310.57,168.83 L310.85,168.82 L311.13,168.81 L311.41,168.79 L311.69,168.78 L311.97,168.77 L312.25,168.76 L312.53,168.74 L312.81,168.72 L313.09,168.70 L313.37,168.68 L313.65,168.66 L313.93,168.63 L314.21,168.60 L314.49,168.58 L314.77,168.54 L315.05,168.51 L315.33,168.48 L315.62,168.44 L315.90,168.41 L316.18,168.37 L316.46,168.33 L316.74,168.29 L317.02,168.25 L317.30,168.21 L317.58,168.17 L317.86,168.13 L318.14,168.09 L318.42,168.04 L318.70,168.00 L318.98,167.96 L319.26,167.91 L319.54,167.87 L319.82,167.82 L320.10,167.78 L320.38,167.74 L320.66,167.69 L320.94,167.65 L321.22,167.61 L321.50,167.57 L321.78,167.52 L322.06,167.48 L322.34,167.44 L322.62,167.40 L322.90,167.37 L323.18,167.32 L323.46,167.28 L323.74,167.24 L324.02,167.20 L324.30,167.15 L324.58,167.11 L324.86,167.06 L325.14,167.02 L325.42,166.97 L325.70,166.93 L325.98,166.88 L326.26,166.84 L326.54,166.79 L326.82,166.75 L327.10,166.70 L327.38,166.66 L327.66,166.62 L327.94,166.58 L328.22,166.55 L328.50,166.51 L328.78,166.48 L329.06,166.44 L329.34,166.41 L329.62,166.39 L329.91,166.36 L330.19,166.33 L330.47,166.31 L330.75,166.28 L331.03,166.25 L331.31,166.22 L331.59,166.20 L331.87,166.17 L332.15,166.15 L332.43,166.12 L332.71,166.10 L332.99,166.07 L333.27,166.05 L333.55,166.03 L333.83,166.01 L334.11,165.99 L334.39,165.97 L334.67,165.95 L334.95,165.93 L335.23,165.92 L335.51,165.91 L335.79,165.90 L336.07,165.89 L336.35,165.88 L336.63,165.88 L336.91,165.88 L337.19,165.88 L337.47,165.88 L337.75,165.88 L338.03,165.88 L338.31,165.89 L338.59,165.89 L338.87,165.90 L339.15,165.90 L339.43,165.91 L339.71,165.91 L339.99,165.92 L340.27,165.93 L340.55,165.94 L340.83,165.95 L341.11,165.96 L341.39,165.97 L341.67,165.98 L341.95,165.99 L342.23,166.00 L342.51,166.01 L342.79,166.02 L343.07,166.04 L343.35,166.05 L343.63,166.06 L343.92,166.07 L344.20,166.09 L344.48,166.10 L344.76,166.11 L345.04,166.13 L345.32,166.14 L345.60,166.16 L345.88,166.17 L346.16,166.18 L346.44,166.20 L346.72,166.21 L347.00,166.23 L347.28,166.24 L347.56,166.25 L347.84,166.27 L348.12,166.28 L348.40,166.29 L348.68,166.31 L348.96,166.32 L349.24,166.33 L349.52,166.34 L349.80,166.35 L350.08,166.37 L350.36,166.38 L350.64,166.39 L350.92,166.40 L351.20,166.41 L351.48,166.42 L351.76,166.43 L352.04,166.44 L352.32,166.45 L352.60,166.46 L352.88,166.47 L353.16,166.48 L353.44,166.49 L353.72,166.50 L354.00,166.51 L354.28,166.52 L354.56,166.53 L354.84,166.54 L355.12,166.55 L355.40,166.56 L355.68,166.57 L355.96,166.58 L356.24,166.59 L356.52,166.60 L356.80,166.61 L357.08,166.62 L357.36,166.63 L357.64,166.64 L357.93,166.65 L358.21,166.66 L358.49,166.67 L358.77,166.68 L359.05,166.69 L359.33,166.70 L359.61,166.71 L359.89,166.72 L360.17,166.73 L360.45,166.74 L360.73,166.75 L361.01,166.76 L361.29,166.77 L361.57,166.78 L361.85,166.79 L362.13,166.80 L362.41,166.81 L362.69,166.83 L362.97,166.84 L363.25,166.85 L363.53,166.86 L363.81,166.87 L364.09,166.88 L364.37,166.89 L364.65,166.90"/></defs>
<use href="#p63" stroke="#0000ff" stroke-width="3.0"/>
<use href="#p63" stroke="#000" stroke-width="1.95" stroke-dasharray="5.35 2.15"/>
</g>
<line x1="126.8" y1="416.9" x2="126.8" y2="230.8" stroke="#d2d2d2" stroke-width="1.45" stroke-dasharray="3.55 3.9"/>
<line x1="214.9" y1="416.9" x2="214.9" y2="230.8" stroke="#d2d2d2" stroke-width="1.45" stroke-dasharray="3.55 3.9"/>
<line x1="322.0" y1="416.9" x2="322.0" y2="230.8" stroke="#d2d2d2" stroke-width="1.45" stroke-dasharray="3.55 3.9"/>
<path d="M93.21,416.9 v-4.1 M93.21,230.8 v4.1" stroke="#000" stroke-width="0.95"/>
<path d="M101.96,416.9 v-4.1 M101.96,230.8 v4.1" stroke="#000" stroke-width="0.95"/>
<path d="M110.72,416.9 v-4.1 M110.72,230.8 v4.1" stroke="#000" stroke-width="0.95"/>
<path d="M119.47,416.9 v-4.1 M119.47,230.8 v4.1" stroke="#000" stroke-width="0.95"/>
<path d="M128.23,416.9 v-4.1 M128.23,230.8 v4.1" stroke="#000" stroke-width="0.95"/>
<path d="M136.99,416.9 v-4.1 M136.99,230.8 v4.1" stroke="#000" stroke-width="0.95"/>
<path d="M145.74,416.9 v-4.1 M145.74,230.8 v4.1" stroke="#000" stroke-width="0.95"/>
<path d="M154.50,416.9 v-8.0 M154.50,230.8 v8.0" stroke="#000" stroke-width="1.15"/>
<path d="M163.26,416.9 v-4.1 M163.26,230.8 v4.1" stroke="#000" stroke-width="0.95"/>
<path d="M172.01,416.9 v-4.1 M172.01,230.8 v4.1" stroke="#000" stroke-width="0.95"/>
<path d="M180.77,416.9 v-4.1 M180.77,230.8 v4.1" stroke="#000" stroke-width="0.95"/>
<path d="M189.52,416.9 v-4.1 M189.52,230.8 v4.1" stroke="#000" stroke-width="0.95"/>
<path d="M198.28,416.9 v-4.1 M198.28,230.8 v4.1" stroke="#000" stroke-width="0.95"/>
<path d="M207.04,416.9 v-4.1 M207.04,230.8 v4.1" stroke="#000" stroke-width="0.95"/>
<path d="M215.79,416.9 v-4.1 M215.79,230.8 v4.1" stroke="#000" stroke-width="0.95"/>
<path d="M224.55,416.9 v-8.0 M224.55,230.8 v8.0" stroke="#000" stroke-width="1.15"/>
<path d="M233.31,416.9 v-4.1 M233.31,230.8 v4.1" stroke="#000" stroke-width="0.95"/>
<path d="M242.06,416.9 v-4.1 M242.06,230.8 v4.1" stroke="#000" stroke-width="0.95"/>
<path d="M250.82,416.9 v-4.1 M250.82,230.8 v4.1" stroke="#000" stroke-width="0.95"/>
<path d="M259.57,416.9 v-4.1 M259.57,230.8 v4.1" stroke="#000" stroke-width="0.95"/>
<path d="M268.33,416.9 v-4.1 M268.33,230.8 v4.1" stroke="#000" stroke-width="0.95"/>
<path d="M277.09,416.9 v-4.1 M277.09,230.8 v4.1" stroke="#000" stroke-width="0.95"/>
<path d="M285.84,416.9 v-4.1 M285.84,230.8 v4.1" stroke="#000" stroke-width="0.95"/>
<path d="M294.60,416.9 v-8.0 M294.60,230.8 v8.0" stroke="#000" stroke-width="1.15"/>
<path d="M303.36,416.9 v-4.1 M303.36,230.8 v4.1" stroke="#000" stroke-width="0.95"/>
<path d="M312.11,416.9 v-4.1 M312.11,230.8 v4.1" stroke="#000" stroke-width="0.95"/>
<path d="M320.87,416.9 v-4.1 M320.87,230.8 v4.1" stroke="#000" stroke-width="0.95"/>
<path d="M329.62,416.9 v-4.1 M329.62,230.8 v4.1" stroke="#000" stroke-width="0.95"/>
<path d="M338.38,416.9 v-4.1 M338.38,230.8 v4.1" stroke="#000" stroke-width="0.95"/>
<path d="M347.14,416.9 v-4.1 M347.14,230.8 v4.1" stroke="#000" stroke-width="0.95"/>
<path d="M355.89,416.9 v-4.1 M355.89,230.8 v4.1" stroke="#000" stroke-width="0.95"/>
<path d="M84.45,342.35 h8.0 M364.65,342.35 h-8.0" stroke="#000" stroke-width="1.15"/>
<path d="M84.45,267.80 h8.0 M364.65,267.80 h-8.0" stroke="#000" stroke-width="1.15"/>
<path d="M84.45,401.99 h4.1 M364.65,401.99 h-4.1" stroke="#000" stroke-width="0.95"/>
<path d="M84.45,387.08 h4.1 M364.65,387.08 h-4.1" stroke="#000" stroke-width="0.95"/>
<path d="M84.45,372.17 h4.1 M364.65,372.17 h-4.1" stroke="#000" stroke-width="0.95"/>
<path d="M84.45,357.26 h4.1 M364.65,357.26 h-4.1" stroke="#000" stroke-width="0.95"/>
<path d="M84.45,327.44 h4.1 M364.65,327.44 h-4.1" stroke="#000" stroke-width="0.95"/>
<path d="M84.45,312.53 h4.1 M364.65,312.53 h-4.1" stroke="#000" stroke-width="0.95"/>
<path d="M84.45,297.62 h4.1 M364.65,297.62 h-4.1" stroke="#000" stroke-width="0.95"/>
<path d="M84.45,282.71 h4.1 M364.65,282.71 h-4.1" stroke="#000" stroke-width="0.95"/>
<path d="M84.45,252.89 h4.1 M364.65,252.89 h-4.1" stroke="#000" stroke-width="0.95"/>
<path d="M84.45,237.98 h4.1 M364.65,237.98 h-4.1" stroke="#000" stroke-width="0.95"/>
<rect x="84.45" y="230.8" width="280.20" height="186.10" fill="none" stroke="#000" stroke-width="1.45"/>
<g clip-path="url(#cb)" fill="none" stroke-linejoin="round">
<defs><path id="p115" d="M84.45,386.71 L84.73,386.43 L85.01,386.14 L85.29,385.84 L85.57,385.54 L85.85,385.24 L86.13,384.93 L86.41,384.62 L86.69,384.30 L86.97,383.98 L87.25,383.65 L87.53,383.32 L87.81,382.99 L88.09,382.64 L88.37,382.30 L88.65,381.94 L88.93,381.58 L89.21,381.22 L89.49,380.85 L89.77,380.47 L90.05,380.09 L90.33,379.71 L90.61,379.31 L90.89,378.91 L91.17,378.50 L91.46,378.09 L91.74,377.67 L92.02,377.25 L92.30,376.81 L92.58,376.37 L92.86,375.92 L93.14,375.47 L93.42,375.01 L93.70,374.54 L93.98,374.06 L94.26,373.57 L94.54,373.08 L94.82,372.57 L95.10,372.06 L95.38,371.54 L95.66,371.02 L95.94,370.48 L96.22,369.93 L96.50,369.38 L96.78,368.81 L97.06,368.24 L97.34,367.65 L97.62,367.06 L97.90,366.45 L98.18,365.84 L98.46,365.21 L98.74,364.57 L99.02,363.93 L99.30,363.27 L99.58,362.60 L99.86,361.91 L100.14,361.22 L100.42,360.51 L100.70,359.79 L100.98,359.06 L101.26,358.32 L101.54,357.56 L101.82,356.79 L102.10,356.01 L102.38,355.21 L102.66,354.40 L102.94,353.58 L103.22,352.74 L103.50,351.89 L103.78,351.02 L104.06,350.14 L104.34,349.24 L104.62,348.32 L104.90,347.40 L105.18,346.45 L105.47,345.49 L105.75,344.51 L106.03,343.52 L106.31,342.51 L106.59,341.49 L106.87,340.44 L107.15,339.39 L107.43,338.31 L107.71,337.22 L107.99,336.11 L108.27,334.98 L108.55,333.84 L108.83,332.67 L109.11,331.50 L109.39,330.30 L109.67,329.09 L109.95,327.86 L110.23,326.61 L110.51,325.35 L110.79,324.07 L111.07,322.77 L111.35,321.46 L111.63,320.13 L111.91,318.79 L112.19,317.44 L112.47,316.06 L112.75,314.68 L113.03,313.28 L113.31,311.87 L113.59,310.45 L113.87,309.02 L114.15,307.58 L114.43,306.13 L114.71,304.67 L114.99,303.20 L115.27,301.73 L115.55,300.26 L115.83,298.78 L116.11,297.31 L116.39,295.83 L116.67,294.36 L116.95,292.89 L117.23,291.42 L117.51,289.96 L117.79,288.52 L118.07,287.09 L118.35,285.67 L118.63,284.27 L118.91,282.88 L119.19,281.52 L119.47,280.19 L119.76,278.88 L120.04,277.61 L120.32,276.36 L120.60,275.15 L120.88,273.99 L121.16,272.86 L121.44,271.78 L121.72,270.74 L122.00,269.76 L122.28,268.83 L122.56,267.96 L122.84,267.14 L123.12,266.39 L123.40,265.71 L123.68,265.08 L123.96,264.53 L124.24,264.05 L124.52,263.65 L124.80,263.32 L125.08,263.06 L125.36,262.89 L125.64,262.79 L125.92,262.78 L126.20,262.84 L126.48,262.99 L126.76,263.22 L127.04,263.54 L127.32,263.93 L127.60,264.40 L127.88,264.96 L128.16,265.60 L128.44,266.31 L128.72,267.10 L129.00,267.96 L129.28,268.90 L129.56,269.91 L129.84,270.98 L130.12,272.13 L130.40,273.33 L130.68,274.59 L130.96,275.92 L131.24,277.29 L131.52,278.72 L131.80,280.19 L132.08,281.71 L132.36,283.27 L132.64,284.87 L132.92,286.50 L133.20,288.17 L133.49,289.86 L133.77,291.57 L134.05,293.31 L134.33,295.07 L134.61,296.84 L134.89,298.63 L135.17,300.42 L135.45,302.22 L135.73,304.03 L136.01,305.84 L136.29,307.65 L136.57,309.46 L136.85,311.26 L137.13,313.06 L137.41,314.85 L137.69,316.62 L137.97,318.39 L138.25,320.14 L138.53,321.88 L138.81,323.60 L139.09,325.31 L139.37,327.00 L139.65,328.67 L139.93,330.32 L140.21,331.94 L140.49,333.55 L140.77,335.13 L141.05,336.70 L141.33,338.24 L141.61,339.75 L141.89,341.24 L142.17,342.71 L142.45,344.16 L142.73,345.58 L143.01,346.97 L143.29,348.34 L143.57,349.69 L143.85,351.01 L144.13,352.31 L144.41,353.58 L144.69,354.83 L144.97,356.06 L145.25,357.26 L145.53,358.44 L145.81,359.60 L146.09,360.73 L146.37,361.84 L146.65,362.93 L146.93,364.00 L147.21,365.04 L147.50,366.06 L147.78,367.07 L148.06,368.05 L148.34,369.01 L148.62,369.95 L148.90,370.87 L149.18,371.77 L149.46,372.65 L149.74,373.52 L150.02,374.36 L150.30,375.19 L150.58,376.00 L150.86,376.80 L151.14,377.57 L151.42,378.33 L151.70,379.08 L151.98,379.80 L152.26,380.52 L152.54,381.21 L152.82,381.90 L153.10,382.56 L153.38,383.22 L153.66,383.86 L153.94,384.48 L154.22,385.10 L154.50,385.70 L154.78,386.28 L155.06,386.86 L155.34,387.42 L155.62,387.97 L155.90,388.51 L156.18,389.04 L156.46,389.56 L156.74,390.06 L157.02,390.56 L157.30,391.04 L157.58,391.52 L157.86,391.99 L158.14,392.44 L158.42,392.89 L158.70,393.33 L158.98,393.75 L159.26,394.17 L159.54,394.58 L159.82,394.99 L160.10,395.38 L160.38,395.77 L160.66,396.15 L160.94,396.52 L161.22,396.88 L161.50,397.24 L161.79,397.59 L162.07,397.93 L162.35,398.27 L162.63,398.59 L162.91,398.92 L163.19,399.23 L163.47,399.54 L163.75,399.85 L164.03,400.14 L164.31,400.44 L164.59,400.72 L164.87,401.00 L165.15,401.28 L165.43,401.55 L165.71,401.82 L165.99,402.08 L166.27,402.33 L166.55,402.58 L166.83,402.83 L167.11,403.07 L167.39,403.30 L167.67,403.54 L167.95,403.76 L168.23,403.99 L168.51,404.21 L168.79,404.42 L169.07,404.63 L169.35,404.84 L169.63,405.05 L169.91,405.25 L170.19,405.44 L170.47,405.63 L170.75,405.82 L171.03,406.01 L171.31,406.19 L171.59,406.37 L171.87,406.55 L172.15,406.72 L172.43,406.89 L172.71,407.06 L172.99,407.22 L173.27,407.38 L173.55,407.54 L173.83,407.70 L174.11,407.85 L174.39,408.00 L174.67,408.15 L174.95,408.29 L175.23,408.43 L175.51,408.57 L175.80,408.71 L176.08,408.85 L176.36,408.98 L176.64,409.11 L176.92,409.24 L177.20,409.37 L177.48,409.49 L177.76,409.61 L178.04,409.73 L178.32,409.85 L178.60,409.97 L178.88,410.08 L179.16,410.19 L179.44,410.30 L179.72,410.41 L180.00,410.52 L180.28,410.62 L180.56,410.73 L180.84,410.83 L181.12,410.93 L181.40,411.03 L181.68,411.12 L181.96,411.22 L182.24,411.31 L182.52,411.40 L182.80,411.49 L183.08,411.58 L183.36,411.67 L183.64,411.76 L183.92,411.84 L184.20,411.92 L184.48,412.01 L184.76,412.09 L185.04,412.17 L185.32,412.24 L185.60,412.32 L185.88,412.40 L186.16,412.47 L186.44,412.55 L186.72,412.62 L187.00,412.69 L187.28,412.76 L187.56,412.83 L187.84,412.89 L188.12,412.96 L188.40,413.03 L188.68,413.09 L188.96,413.15 L189.24,413.22 L189.52,413.28 L189.81,413.34 L190.09,413.40 L190.37,413.46 L190.65,413.52 L190.93,413.57 L191.21,413.63 L191.49,413.68 L191.77,413.74 L192.05,413.79 L192.33,413.84 L192.61,413.90 L192.89,413.95 L193.17,414.00 L193.45,414.05 L193.73,414.09 L194.01,414.14 L194.29,414.19 L194.57,414.23 L194.85,414.28 L195.13,414.33 L195.41,414.37 L195.69,414.41 L195.97,414.46 L196.25,414.50 L196.53,414.54 L196.81,414.58 L197.09,414.62 L197.37,414.66 L197.65,414.70 L197.93,414.74 L198.21,414.77 L198.49,414.81 L198.77,414.85 L199.05,414.88 L199.33,414.92 L199.61,414.95 L199.89,414.98 L200.17,415.02 L200.45,415.05 L200.73,415.08 L201.01,415.11 L201.29,415.15 L201.57,415.18 L201.85,415.21 L202.13,415.24 L202.41,415.27 L202.69,415.29 L202.97,415.32 L203.25,415.35 L203.53,415.38 L203.82,415.40 L204.10,415.43 L204.38,415.45 L204.66,415.48 L204.94,415.50 L205.22,415.53 L205.50,415.55 L205.78,415.58 L206.06,415.60 L206.34,415.62 L206.62,415.64 L206.90,415.67 L207.18,415.69 L207.46,415.71 L207.74,415.73 L208.02,415.75 L208.30,415.77 L208.58,415.79 L208.86,415.81 L209.14,415.82 L209.42,415.84 L209.70,415.86 L209.98,415.88 L210.26,415.89 L210.54,415.91 L210.82,415.93 L211.10,415.94 L211.38,415.96 L211.66,415.97 L211.94,415.99 L212.22,416.00 L212.50,416.01 L212.78,416.03 L213.06,416.04 L213.34,416.05 L213.62,416.07 L213.90,416.08 L214.18,416.09 L214.46,416.10 L214.74,416.11 L215.02,416.12 L215.30,416.13 L215.58,416.14 L215.86,416.15 L216.14,416.16 L216.42,416.17 L216.70,416.18 L216.98,416.19 L217.26,416.20 L217.55,416.21 L217.83,416.21 L218.11,416.22 L218.39,416.23 L218.67,416.23 L218.95,416.24 L219.23,416.25 L219.51,416.25 L219.79,416.26 L220.07,416.26 L220.35,416.27 L220.63,416.27 L220.91,416.28 L221.19,416.28 L221.47,416.28 L221.75,416.29 L222.03,416.29 L222.31,416.29 L222.59,416.29 L222.87,416.30 L223.15,416.30 L223.43,416.30 L223.71,416.30 L223.99,416.30 L224.27,416.30 L224.55,416.30 L224.83,416.30 L225.11,416.30 L225.39,416.30 L225.67,416.30 L225.95,416.30 L226.23,416.30 L226.51,416.29 L226.79,416.29 L227.07,416.29 L227.35,416.29 L227.63,416.28 L227.91,416.28 L228.19,416.28 L228.47,416.27 L228.75,416.27 L229.03,416.26 L229.31,416.26 L229.59,416.25 L229.87,416.25 L230.15,416.24 L230.43,416.23 L230.71,416.23 L230.99,416.22 L231.27,416.21 L231.56,416.21 L231.84,416.20 L232.12,416.19 L232.40,416.18 L232.68,416.17 L232.96,416.16 L233.24,416.15 L233.52,416.14 L233.80,416.13 L234.08,416.12 L234.36,416.11 L234.64,416.10 L234.92,416.09 L235.20,416.08 L235.48,416.07 L235.76,416.05 L236.04,416.04 L236.32,416.03 L236.60,416.01 L236.88,416.00 L237.16,415.99 L237.44,415.97 L237.72,415.96 L238.00,415.94 L238.28,415.93 L238.56,415.91 L238.84,415.89 L239.12,415.88 L239.40,415.86 L239.68,415.84 L239.96,415.82 L240.24,415.81 L240.52,415.79 L240.80,415.77 L241.08,415.75 L241.36,415.73 L241.64,415.71 L241.92,415.69 L242.20,415.67 L242.48,415.64 L242.76,415.62 L243.04,415.60 L243.32,415.58 L243.60,415.55 L243.88,415.53 L244.16,415.50 L244.44,415.48 L244.72,415.45 L245.00,415.43 L245.28,415.40 L245.56,415.38 L245.85,415.35 L246.13,415.32 L246.41,415.29 L246.69,415.27 L246.97,415.24 L247.25,415.21 L247.53,415.18 L247.81,415.15 L248.09,415.11 L248.37,415.08 L248.65,415.05 L248.93,415.02 L249.21,414.98 L249.49,414.95 L249.77,414.92 L250.05,414.88 L250.33,414.85 L250.61,414.81 L250.89,414.77 L251.17,414.74 L251.45,414.70 L251.73,414.66 L252.01,414.62 L252.29,414.58 L252.57,414.54 L252.85,414.50 L253.13,414.46 L253.41,414.41 L253.69,414.37 L253.97,414.33 L254.25,414.28 L254.53,414.23 L254.81,414.19 L255.09,414.14 L255.37,414.09 L255.65,414.05 L255.93,414.00 L256.21,413.95 L256.49,413.90 L256.77,413.84 L257.05,413.79 L257.33,413.74 L257.61,413.68 L257.89,413.63 L258.17,413.57 L258.45,413.52 L258.73,413.46 L259.01,413.40 L259.29,413.34 L259.57,413.28 L259.86,413.22 L260.14,413.15 L260.42,413.09 L260.70,413.03 L260.98,412.96 L261.26,412.89 L261.54,412.83 L261.82,412.76 L262.10,412.69 L262.38,412.62 L262.66,412.55 L262.94,412.47 L263.22,412.40 L263.50,412.32 L263.78,412.24 L264.06,412.17 L264.34,412.09 L264.62,412.01 L264.90,411.92 L265.18,411.84 L265.46,411.76 L265.74,411.67 L266.02,411.58 L266.30,411.49 L266.58,411.40 L266.86,411.31 L267.14,411.22 L267.42,411.12 L267.70,411.03 L267.98,410.93 L268.26,410.83 L268.54,410.73 L268.82,410.62 L269.10,410.52 L269.38,410.41 L269.66,410.30 L269.94,410.19 L270.22,410.08 L270.50,409.97 L270.78,409.85 L271.06,409.73 L271.34,409.61 L271.62,409.49 L271.90,409.37 L272.18,409.24 L272.46,409.11 L272.74,408.98 L273.02,408.85 L273.30,408.71 L273.58,408.57 L273.87,408.43 L274.15,408.29 L274.43,408.15 L274.71,408.00 L274.99,407.85 L275.27,407.70 L275.55,407.54 L275.83,407.38 L276.11,407.22 L276.39,407.06 L276.67,406.89 L276.95,406.72 L277.23,406.55 L277.51,406.37 L277.79,406.19 L278.07,406.01 L278.35,405.82 L278.63,405.63 L278.91,405.44 L279.19,405.25 L279.47,405.05 L279.75,404.84 L280.03,404.63 L280.31,404.42 L280.59,404.21 L280.87,403.99 L281.15,403.76 L281.43,403.54 L281.71,403.30 L281.99,403.07 L282.27,402.83 L282.55,402.58 L282.83,402.33 L283.11,402.08 L283.39,401.82 L283.67,401.55 L283.95,401.28 L284.23,401.00 L284.51,400.72 L284.79,400.44 L285.07,400.14 L285.35,399.85 L285.63,399.54 L285.91,399.23 L286.19,398.92 L286.47,398.59 L286.75,398.27 L287.03,397.93 L287.31,397.59 L287.59,397.24 L287.88,396.88 L288.16,396.52 L288.44,396.15 L288.72,395.77 L289.00,395.38 L289.28,394.99 L289.56,394.58 L289.84,394.17 L290.12,393.75 L290.40,393.33 L290.68,392.89 L290.96,392.44 L291.24,391.99 L291.52,391.52 L291.80,391.04 L292.08,390.56 L292.36,390.06 L292.64,389.56 L292.92,389.04 L293.20,388.51 L293.48,387.97 L293.76,387.42 L294.04,386.86 L294.32,386.28 L294.60,385.70 L294.88,385.10 L295.16,384.48 L295.44,383.86 L295.72,383.22 L296.00,382.56 L296.28,381.90 L296.56,381.21 L296.84,380.52 L297.12,379.80 L297.40,379.08 L297.68,378.33 L297.96,377.57 L298.24,376.80 L298.52,376.00 L298.80,375.19 L299.08,374.36 L299.36,373.52 L299.64,372.65 L299.92,371.77 L300.20,370.87 L300.48,369.95 L300.76,369.01 L301.04,368.05 L301.32,367.07 L301.61,366.06 L301.89,365.04 L302.17,364.00 L302.45,362.93 L302.73,361.84 L303.01,360.73 L303.29,359.60 L303.57,358.44 L303.85,357.26 L304.13,356.06 L304.41,354.83 L304.69,353.58 L304.97,352.31 L305.25,351.01 L305.53,349.69 L305.81,348.34 L306.09,346.97 L306.37,345.58 L306.65,344.16 L306.93,342.71 L307.21,341.24 L307.49,339.75 L307.77,338.24 L308.05,336.70 L308.33,335.13 L308.61,333.55 L308.89,331.94 L309.17,330.32 L309.45,328.67 L309.73,327.00 L310.01,325.31 L310.29,323.60 L310.57,321.88 L310.85,320.14 L311.13,318.39 L311.41,316.62 L311.69,314.85 L311.97,313.06 L312.25,311.26 L312.53,309.46 L312.81,307.65 L313.09,305.84 L313.37,304.03 L313.65,302.22 L313.93,300.42 L314.21,298.63 L314.49,296.84 L314.77,295.07 L315.05,293.31 L315.33,291.57 L315.62,289.86 L315.90,288.17 L316.18,286.50 L316.46,284.87 L316.74,283.27 L317.02,281.71 L317.30,280.19 L317.58,278.72 L317.86,277.29 L318.14,275.92 L318.42,274.59 L318.70,273.33 L318.98,272.13 L319.26,270.98 L319.54,269.91 L319.82,268.90 L320.10,267.96 L320.38,267.10 L320.66,266.31 L320.94,265.60 L321.22,264.96 L321.50,264.40 L321.78,263.93 L322.06,263.54 L322.34,263.22 L322.62,262.99 L322.90,262.84 L323.18,262.78 L323.46,262.79 L323.74,262.89 L324.02,263.06 L324.30,263.32 L324.58,263.65 L324.86,264.05 L325.14,264.53 L325.42,265.08 L325.70,265.71 L325.98,266.39 L326.26,267.14 L326.54,267.96 L326.82,268.83 L327.10,269.76 L327.38,270.74 L327.66,271.78 L327.94,272.86 L328.22,273.99 L328.50,275.15 L328.78,276.36 L329.06,277.61 L329.34,278.88 L329.62,280.19 L329.91,281.52 L330.19,282.88 L330.47,284.27 L330.75,285.67 L331.03,287.09 L331.31,288.52 L331.59,289.96 L331.87,291.42 L332.15,292.89 L332.43,294.36 L332.71,295.83 L332.99,297.31 L333.27,298.78 L333.55,300.26 L333.83,301.73 L334.11,303.20 L334.39,304.67 L334.67,306.13 L334.95,307.58 L335.23,309.02 L335.51,310.45 L335.79,311.87 L336.07,313.28 L336.35,314.68 L336.63,316.06 L336.91,317.44 L337.19,318.79 L337.47,320.13 L337.75,321.46 L338.03,322.77 L338.31,324.07 L338.59,325.35 L338.87,326.61 L339.15,327.86 L339.43,329.09 L339.71,330.30 L339.99,331.50 L340.27,332.67 L340.55,333.84 L340.83,334.98 L341.11,336.11 L341.39,337.22 L341.67,338.31 L341.95,339.39 L342.23,340.44 L342.51,341.49 L342.79,342.51 L343.07,343.52 L343.35,344.51 L343.63,345.49 L343.92,346.45 L344.20,347.40 L344.48,348.32 L344.76,349.24 L345.04,350.14 L345.32,351.02 L345.60,351.89 L345.88,352.74 L346.16,353.58 L346.44,354.40 L346.72,355.21 L347.00,356.01 L347.28,356.79 L347.56,357.56 L347.84,358.32 L348.12,359.06 L348.40,359.79 L348.68,360.51 L348.96,361.22 L349.24,361.91 L349.52,362.60 L349.80,363.27 L350.08,363.93 L350.36,364.57 L350.64,365.21 L350.92,365.84 L351.20,366.45 L351.48,367.06 L351.76,367.65 L352.04,368.24 L352.32,368.81 L352.60,369.38 L352.88,369.93 L353.16,370.48 L353.44,371.02 L353.72,371.54 L354.00,372.06 L354.28,372.57 L354.56,373.08 L354.84,373.57 L355.12,374.06 L355.40,374.54 L355.68,375.01 L355.96,375.47 L356.24,375.92 L356.52,376.37 L356.80,376.81 L357.08,377.25 L357.36,377.67 L357.64,378.09 L357.93,378.50 L358.21,378.91 L358.49,379.31 L358.77,379.71 L359.05,380.09 L359.33,380.47 L359.61,380.85 L359.89,381.22 L360.17,381.58 L360.45,381.94 L360.73,382.30 L361.01,382.64 L361.29,382.99 L361.57,383.32 L361.85,383.65 L362.13,383.98 L362.41,384.30 L362.69,384.62 L362.97,384.93 L363.25,385.24 L363.53,385.54 L363.81,385.84 L364.09,386.14 L364.37,386.43 L364.65,386.71"/></defs>
<use href="#p115" stroke="#ff0000" stroke-width="2.3"/>
<use href="#p115" stroke="#000" stroke-width="1.95" stroke-dasharray="5.35 2.15"/>
<defs><path id="p118" d="M84.45,403.20 L84.73,403.01 L85.01,402.82 L85.29,402.62 L85.57,402.42 L85.85,402.22 L86.13,402.02 L86.41,401.81 L86.69,401.59 L86.97,401.38 L87.25,401.15 L87.53,400.93 L87.81,400.70 L88.09,400.47 L88.37,400.23 L88.65,399.99 L88.93,399.74 L89.21,399.49 L89.49,399.23 L89.77,398.97 L90.05,398.70 L90.33,398.43 L90.61,398.15 L90.89,397.87 L91.17,397.58 L91.46,397.29 L91.74,396.99 L92.02,396.69 L92.30,396.37 L92.58,396.06 L92.86,395.73 L93.14,395.40 L93.42,395.07 L93.70,394.72 L93.98,394.37 L94.26,394.02 L94.54,393.65 L94.82,393.28 L95.10,392.90 L95.38,392.51 L95.66,392.12 L95.94,391.71 L96.22,391.30 L96.50,390.88 L96.78,390.45 L97.06,390.02 L97.34,389.57 L97.62,389.11 L97.90,388.65 L98.18,388.17 L98.46,387.68 L98.74,387.19 L99.02,386.68 L99.30,386.16 L99.58,385.64 L99.86,385.10 L100.14,384.55 L100.42,383.98 L100.70,383.41 L100.98,382.82 L101.26,382.22 L101.54,381.61 L101.82,380.98 L102.10,380.34 L102.38,379.69 L102.66,379.02 L102.94,378.34 L103.22,377.64 L103.50,376.93 L103.78,376.20 L104.06,375.46 L104.34,374.70 L104.62,373.93 L104.90,373.14 L105.18,372.33 L105.47,371.50 L105.75,370.66 L106.03,369.80 L106.31,368.92 L106.59,368.02 L106.87,367.10 L107.15,366.17 L107.43,365.21 L107.71,364.24 L107.99,363.24 L108.27,362.22 L108.55,361.18 L108.83,360.13 L109.11,359.05 L109.39,357.94 L109.67,356.82 L109.95,355.68 L110.23,354.51 L110.51,353.32 L110.79,352.11 L111.07,350.87 L111.35,349.61 L111.63,348.33 L111.91,347.03 L112.19,345.70 L112.47,344.36 L112.75,342.98 L113.03,341.59 L113.31,340.18 L113.59,338.74 L113.87,337.28 L114.15,335.80 L114.43,334.30 L114.71,332.78 L114.99,331.24 L115.27,329.68 L115.55,328.10 L115.83,326.51 L116.11,324.90 L116.39,323.27 L116.67,321.63 L116.95,319.98 L117.23,318.32 L117.51,316.65 L117.79,314.97 L118.07,313.28 L118.35,311.59 L118.63,309.89 L118.91,308.20 L119.19,306.51 L119.47,304.82 L119.76,303.14 L120.04,301.46 L120.32,299.80 L120.60,298.15 L120.88,296.52 L121.16,294.91 L121.44,293.32 L121.72,291.76 L122.00,290.22 L122.28,288.72 L122.56,287.25 L122.84,285.82 L123.12,284.43 L123.40,283.09 L123.68,281.79 L123.96,280.54 L124.24,279.34 L124.52,278.20 L124.80,277.12 L125.08,276.10 L125.36,275.14 L125.64,274.25 L125.92,273.42 L126.20,272.66 L126.48,271.98 L126.76,271.37 L127.04,270.83 L127.32,270.36 L127.60,269.98 L127.88,269.66 L128.16,269.43 L128.44,269.27 L128.72,269.19 L129.00,269.18 L129.28,269.25 L129.56,269.39 L129.84,269.61 L130.12,269.90 L130.40,270.25 L130.68,270.68 L130.96,271.18 L131.24,271.74 L131.52,272.36 L131.80,273.04 L132.08,273.79 L132.36,274.58 L132.64,275.43 L132.92,276.34 L133.20,277.28 L133.49,278.28 L133.77,279.32 L134.05,280.39 L134.33,281.50 L134.61,282.65 L134.89,283.83 L135.17,285.04 L135.45,286.27 L135.73,287.53 L136.01,288.81 L136.29,290.10 L136.57,291.42 L136.85,292.74 L137.13,294.08 L137.41,295.43 L137.69,296.79 L137.97,298.16 L138.25,299.52 L138.53,300.89 L138.81,302.26 L139.09,303.63 L139.37,305.00 L139.65,306.37 L139.93,307.73 L140.21,309.08 L140.49,310.43 L140.77,311.77 L141.05,313.10 L141.33,314.42 L141.61,315.73 L141.89,317.03 L142.17,318.31 L142.45,319.59 L142.73,320.85 L143.01,322.10 L143.29,323.33 L143.57,324.55 L143.85,325.75 L144.13,326.94 L144.41,328.11 L144.69,329.27 L144.97,330.41 L145.25,331.54 L145.53,332.65 L145.81,333.74 L146.09,334.82 L146.37,335.89 L146.65,336.93 L146.93,337.96 L147.21,338.98 L147.50,339.98 L147.78,340.96 L148.06,341.93 L148.34,342.88 L148.62,343.81 L148.90,344.73 L149.18,345.64 L149.46,346.53 L149.74,347.40 L150.02,348.27 L150.30,349.11 L150.58,349.94 L150.86,350.76 L151.14,351.57 L151.42,352.36 L151.70,353.13 L151.98,353.90 L152.26,354.65 L152.54,355.38 L152.82,356.11 L153.10,356.82 L153.38,357.52 L153.66,358.21 L153.94,358.88 L154.22,359.54 L154.50,360.20 L154.78,360.84 L155.06,361.47 L155.34,362.08 L155.62,362.69 L155.90,363.29 L156.18,363.88 L156.46,364.45 L156.74,365.02 L157.02,365.58 L157.30,366.12 L157.58,366.66 L157.86,367.19 L158.14,367.71 L158.42,368.22 L158.70,368.72 L158.98,369.22 L159.26,369.70 L159.54,370.18 L159.82,370.65 L160.10,371.11 L160.38,371.56 L160.66,372.00 L160.94,372.44 L161.22,372.87 L161.50,373.30 L161.79,373.71 L162.07,374.12 L162.35,374.52 L162.63,374.92 L162.91,375.31 L163.19,375.69 L163.47,376.07 L163.75,376.44 L164.03,376.80 L164.31,377.16 L164.59,377.51 L164.87,377.86 L165.15,378.20 L165.43,378.53 L165.71,378.86 L165.99,379.19 L166.27,379.51 L166.55,379.82 L166.83,380.13 L167.11,380.44 L167.39,380.74 L167.67,381.03 L167.95,381.32 L168.23,381.61 L168.51,381.89 L168.79,382.17 L169.07,382.44 L169.35,382.71 L169.63,382.97 L169.91,383.23 L170.19,383.49 L170.47,383.74 L170.75,383.99 L171.03,384.23 L171.31,384.47 L171.59,384.71 L171.87,384.94 L172.15,385.17 L172.43,385.40 L172.71,385.62 L172.99,385.84 L173.27,386.06 L173.55,386.27 L173.83,386.49 L174.11,386.69 L174.39,386.90 L174.67,387.10 L174.95,387.30 L175.23,387.49 L175.51,387.68 L175.80,387.87 L176.08,388.06 L176.36,388.24 L176.64,388.42 L176.92,388.60 L177.20,388.78 L177.48,388.95 L177.76,389.12 L178.04,389.29 L178.32,389.46 L178.60,389.62 L178.88,389.78 L179.16,389.94 L179.44,390.10 L179.72,390.26 L180.00,390.41 L180.28,390.56 L180.56,390.71 L180.84,390.85 L181.12,391.00 L181.40,391.14 L181.68,391.28 L181.96,391.42 L182.24,391.55 L182.52,391.69 L182.80,391.82 L183.08,391.95 L183.36,392.08 L183.64,392.21 L183.92,392.33 L184.20,392.46 L184.48,392.58 L184.76,392.70 L185.04,392.82 L185.32,392.93 L185.60,393.05 L185.88,393.16 L186.16,393.27 L186.44,393.38 L186.72,393.49 L187.00,393.60 L187.28,393.71 L187.56,393.81 L187.84,393.91 L188.12,394.02 L188.40,394.12 L188.68,394.21 L188.96,394.31 L189.24,394.41 L189.52,394.50 L189.81,394.60 L190.09,394.69 L190.37,394.78 L190.65,394.87 L190.93,394.96 L191.21,395.04 L191.49,395.13 L191.77,395.22 L192.05,395.30 L192.33,395.38 L192.61,395.46 L192.89,395.54 L193.17,395.62 L193.45,395.70 L193.73,395.78 L194.01,395.85 L194.29,395.93 L194.57,396.00 L194.85,396.07 L195.13,396.14 L195.41,396.21 L195.69,396.28 L195.97,396.35 L196.25,396.42 L196.53,396.49 L196.81,396.55 L197.09,396.62 L197.37,396.68 L197.65,396.74 L197.93,396.81 L198.21,396.87 L198.49,396.93 L198.77,396.99 L199.05,397.04 L199.33,397.10 L199.61,397.16 L199.89,397.21 L200.17,397.27 L200.45,397.32 L200.73,397.37 L201.01,397.43 L201.29,397.48 L201.57,397.53 L201.85,397.58 L202.13,397.63 L202.41,397.68 L202.69,397.72 L202.97,397.77 L203.25,397.82 L203.53,397.86 L203.82,397.91 L204.10,397.95 L204.38,397.99 L204.66,398.04 L204.94,398.08 L205.22,398.12 L205.50,398.16 L205.78,398.20 L206.06,398.24 L206.34,398.27 L206.62,398.31 L206.90,398.35 L207.18,398.38 L207.46,398.42 L207.74,398.45 L208.02,398.49 L208.30,398.52 L208.58,398.55 L208.86,398.59 L209.14,398.62 L209.42,398.65 L209.70,398.68 L209.98,398.71 L210.26,398.74 L210.54,398.76 L210.82,398.79 L211.10,398.82 L211.38,398.85 L211.66,398.87 L211.94,398.90 L212.22,398.92 L212.50,398.94 L212.78,398.97 L213.06,398.99 L213.34,399.01 L213.62,399.03 L213.90,399.06 L214.18,399.08 L214.46,399.10 L214.74,399.12 L215.02,399.13 L215.30,399.15 L215.58,399.17 L215.86,399.19 L216.14,399.20 L216.42,399.22 L216.70,399.23 L216.98,399.25 L217.26,399.26 L217.55,399.28 L217.83,399.29 L218.11,399.30 L218.39,399.31 L218.67,399.33 L218.95,399.34 L219.23,399.35 L219.51,399.36 L219.79,399.37 L220.07,399.38 L220.35,399.38 L220.63,399.39 L220.91,399.40 L221.19,399.40 L221.47,399.41 L221.75,399.42 L222.03,399.42 L222.31,399.43 L222.59,399.43 L222.87,399.43 L223.15,399.44 L223.43,399.44 L223.71,399.44 L223.99,399.44 L224.27,399.44 L224.55,399.44 L224.83,399.44 L225.11,399.44 L225.39,399.44 L225.67,399.44 L225.95,399.44 L226.23,399.43 L226.51,399.43 L226.79,399.43 L227.07,399.42 L227.35,399.42 L227.63,399.41 L227.91,399.40 L228.19,399.40 L228.47,399.39 L228.75,399.38 L229.03,399.38 L229.31,399.37 L229.59,399.36 L229.87,399.35 L230.15,399.34 L230.43,399.33 L230.71,399.31 L230.99,399.30 L231.27,399.29 L231.56,399.28 L231.84,399.26 L232.12,399.25 L232.40,399.23 L232.68,399.22 L232.96,399.20 L233.24,399.19 L233.52,399.17 L233.80,399.15 L234.08,399.13 L234.36,399.12 L234.64,399.10 L234.92,399.08 L235.20,399.06 L235.48,399.03 L235.76,399.01 L236.04,398.99 L236.32,398.97 L236.60,398.94 L236.88,398.92 L237.16,398.90 L237.44,398.87 L237.72,398.85 L238.00,398.82 L238.28,398.79 L238.56,398.76 L238.84,398.74 L239.12,398.71 L239.40,398.68 L239.68,398.65 L239.96,398.62 L240.24,398.59 L240.52,398.55 L240.80,398.52 L241.08,398.49 L241.36,398.45 L241.64,398.42 L241.92,398.38 L242.20,398.35 L242.48,398.31 L242.76,398.27 L243.04,398.24 L243.32,398.20 L243.60,398.16 L243.88,398.12 L244.16,398.08 L244.44,398.04 L244.72,397.99 L245.00,397.95 L245.28,397.91 L245.56,397.86 L245.85,397.82 L246.13,397.77 L246.41,397.72 L246.69,397.68 L246.97,397.63 L247.25,397.58 L247.53,397.53 L247.81,397.48 L248.09,397.43 L248.37,397.37 L248.65,397.32 L248.93,397.27 L249.21,397.21 L249.49,397.16 L249.77,397.10 L250.05,397.04 L250.33,396.99 L250.61,396.93 L250.89,396.87 L251.17,396.81 L251.45,396.74 L251.73,396.68 L252.01,396.62 L252.29,396.55 L252.57,396.49 L252.85,396.42 L253.13,396.35 L253.41,396.28 L253.69,396.21 L253.97,396.14 L254.25,396.07 L254.53,396.00 L254.81,395.93 L255.09,395.85 L255.37,395.78 L255.65,395.70 L255.93,395.62 L256.21,395.54 L256.49,395.46 L256.77,395.38 L257.05,395.30 L257.33,395.22 L257.61,395.13 L257.89,395.04 L258.17,394.96 L258.45,394.87 L258.73,394.78 L259.01,394.69 L259.29,394.60 L259.57,394.50 L259.86,394.41 L260.14,394.31 L260.42,394.21 L260.70,394.12 L260.98,394.02 L261.26,393.91 L261.54,393.81 L261.82,393.71 L262.10,393.60 L262.38,393.49 L262.66,393.38 L262.94,393.27 L263.22,393.16 L263.50,393.05 L263.78,392.93 L264.06,392.82 L264.34,392.70 L264.62,392.58 L264.90,392.46 L265.18,392.33 L265.46,392.21 L265.74,392.08 L266.02,391.95 L266.30,391.82 L266.58,391.69 L266.86,391.55 L267.14,391.42 L267.42,391.28 L267.70,391.14 L267.98,391.00 L268.26,390.85 L268.54,390.71 L268.82,390.56 L269.10,390.41 L269.38,390.26 L269.66,390.10 L269.94,389.94 L270.22,389.78 L270.50,389.62 L270.78,389.46 L271.06,389.29 L271.34,389.12 L271.62,388.95 L271.90,388.78 L272.18,388.60 L272.46,388.42 L272.74,388.24 L273.02,388.06 L273.30,387.87 L273.58,387.68 L273.87,387.49 L274.15,387.30 L274.43,387.10 L274.71,386.90 L274.99,386.69 L275.27,386.49 L275.55,386.27 L275.83,386.06 L276.11,385.84 L276.39,385.62 L276.67,385.40 L276.95,385.17 L277.23,384.94 L277.51,384.71 L277.79,384.47 L278.07,384.23 L278.35,383.99 L278.63,383.74 L278.91,383.49 L279.19,383.23 L279.47,382.97 L279.75,382.71 L280.03,382.44 L280.31,382.17 L280.59,381.89 L280.87,381.61 L281.15,381.32 L281.43,381.03 L281.71,380.74 L281.99,380.44 L282.27,380.13 L282.55,379.82 L282.83,379.51 L283.11,379.19 L283.39,378.86 L283.67,378.53 L283.95,378.20 L284.23,377.86 L284.51,377.51 L284.79,377.16 L285.07,376.80 L285.35,376.44 L285.63,376.07 L285.91,375.69 L286.19,375.31 L286.47,374.92 L286.75,374.52 L287.03,374.12 L287.31,373.71 L287.59,373.30 L287.88,372.87 L288.16,372.44 L288.44,372.00 L288.72,371.56 L289.00,371.11 L289.28,370.65 L289.56,370.18 L289.84,369.70 L290.12,369.22 L290.40,368.72 L290.68,368.22 L290.96,367.71 L291.24,367.19 L291.52,366.66 L291.80,366.12 L292.08,365.58 L292.36,365.02 L292.64,364.45 L292.92,363.88 L293.20,363.29 L293.48,362.69 L293.76,362.08 L294.04,361.47 L294.32,360.84 L294.60,360.20 L294.88,359.54 L295.16,358.88 L295.44,358.21 L295.72,357.52 L296.00,356.82 L296.28,356.11 L296.56,355.38 L296.84,354.65 L297.12,353.90 L297.40,353.13 L297.68,352.36 L297.96,351.57 L298.24,350.76 L298.52,349.94 L298.80,349.11 L299.08,348.27 L299.36,347.40 L299.64,346.53 L299.92,345.64 L300.20,344.73 L300.48,343.81 L300.76,342.88 L301.04,341.93 L301.32,340.96 L301.61,339.98 L301.89,338.98 L302.17,337.96 L302.45,336.93 L302.73,335.89 L303.01,334.82 L303.29,333.74 L303.57,332.65 L303.85,331.54 L304.13,330.41 L304.41,329.27 L304.69,328.11 L304.97,326.94 L305.25,325.75 L305.53,324.55 L305.81,323.33 L306.09,322.10 L306.37,320.85 L306.65,319.59 L306.93,318.31 L307.21,317.03 L307.49,315.73 L307.77,314.42 L308.05,313.10 L308.33,311.77 L308.61,310.43 L308.89,309.08 L309.17,307.73 L309.45,306.37 L309.73,305.00 L310.01,303.63 L310.29,302.26 L310.57,300.89 L310.85,299.52 L311.13,298.16 L311.41,296.79 L311.69,295.43 L311.97,294.08 L312.25,292.74 L312.53,291.42 L312.81,290.10 L313.09,288.81 L313.37,287.53 L313.65,286.27 L313.93,285.04 L314.21,283.83 L314.49,282.65 L314.77,281.50 L315.05,280.39 L315.33,279.32 L315.62,278.28 L315.90,277.28 L316.18,276.34 L316.46,275.43 L316.74,274.58 L317.02,273.79 L317.30,273.04 L317.58,272.36 L317.86,271.74 L318.14,271.18 L318.42,270.68 L318.70,270.25 L318.98,269.90 L319.26,269.61 L319.54,269.39 L319.82,269.25 L320.10,269.18 L320.38,269.19 L320.66,269.27 L320.94,269.43 L321.22,269.66 L321.50,269.98 L321.78,270.36 L322.06,270.83 L322.34,271.37 L322.62,271.98 L322.90,272.66 L323.18,273.42 L323.46,274.25 L323.74,275.14 L324.02,276.10 L324.30,277.12 L324.58,278.20 L324.86,279.34 L325.14,280.54 L325.42,281.79 L325.70,283.09 L325.98,284.43 L326.26,285.82 L326.54,287.25 L326.82,288.72 L327.10,290.22 L327.38,291.76 L327.66,293.32 L327.94,294.91 L328.22,296.52 L328.50,298.15 L328.78,299.80 L329.06,301.46 L329.34,303.14 L329.62,304.82 L329.91,306.51 L330.19,308.20 L330.47,309.89 L330.75,311.59 L331.03,313.28 L331.31,314.97 L331.59,316.65 L331.87,318.32 L332.15,319.98 L332.43,321.63 L332.71,323.27 L332.99,324.90 L333.27,326.51 L333.55,328.10 L333.83,329.68 L334.11,331.24 L334.39,332.78 L334.67,334.30 L334.95,335.80 L335.23,337.28 L335.51,338.74 L335.79,340.18 L336.07,341.59 L336.35,342.98 L336.63,344.36 L336.91,345.70 L337.19,347.03 L337.47,348.33 L337.75,349.61 L338.03,350.87 L338.31,352.11 L338.59,353.32 L338.87,354.51 L339.15,355.68 L339.43,356.82 L339.71,357.94 L339.99,359.05 L340.27,360.13 L340.55,361.18 L340.83,362.22 L341.11,363.24 L341.39,364.24 L341.67,365.21 L341.95,366.17 L342.23,367.10 L342.51,368.02 L342.79,368.92 L343.07,369.80 L343.35,370.66 L343.63,371.50 L343.92,372.33 L344.20,373.14 L344.48,373.93 L344.76,374.70 L345.04,375.46 L345.32,376.20 L345.60,376.93 L345.88,377.64 L346.16,378.34 L346.44,379.02 L346.72,379.69 L347.00,380.34 L347.28,380.98 L347.56,381.61 L347.84,382.22 L348.12,382.82 L348.40,383.41 L348.68,383.98 L348.96,384.55 L349.24,385.10 L349.52,385.64 L349.80,386.16 L350.08,386.68 L350.36,387.19 L350.64,387.68 L350.92,388.17 L351.20,388.65 L351.48,389.11 L351.76,389.57 L352.04,390.02 L352.32,390.45 L352.60,390.88 L352.88,391.30 L353.16,391.71 L353.44,392.12 L353.72,392.51 L354.00,392.90 L354.28,393.28 L354.56,393.65 L354.84,394.02 L355.12,394.37 L355.40,394.72 L355.68,395.07 L355.96,395.40 L356.24,395.73 L356.52,396.06 L356.80,396.37 L357.08,396.69 L357.36,396.99 L357.64,397.29 L357.93,397.58 L358.21,397.87 L358.49,398.15 L358.77,398.43 L359.05,398.70 L359.33,398.97 L359.61,399.23 L359.89,399.49 L360.17,399.74 L360.45,399.99 L360.73,400.23 L361.01,400.47 L361.29,400.70 L361.57,400.93 L361.85,401.15 L362.13,401.38 L362.41,401.59 L362.69,401.81 L362.97,402.02 L363.25,402.22 L363.53,402.42 L363.81,402.62 L364.09,402.82 L364.37,403.01 L364.65,403.20"/></defs>
<use href="#p118" stroke="#0000ff" stroke-width="2.3"/>
<use href="#p118" stroke="#000" stroke-width="1.95" stroke-dasharray="5.35 2.15"/>
</g>
<g fill="#000" font-size="100" opacity="0.999">
<text transform="matrix(0.17231 0.0004 0 0.18429 71.001 206.45)" font-family="Liberation Serif, serif" stroke="#fff" stroke-width="0.1" vector-effect="non-scaling-stroke">0</text>
<text transform="matrix(0.17231 0.0004 0 0.18429 70.918 172.51)" font-family="Liberation Serif, serif" stroke="#fff" stroke-width="0.1" vector-effect="non-scaling-stroke">1</text>
<text transform="matrix(0.17231 0.0004 0 0.18429 71.346 138.58)" font-family="Liberation Serif, serif" stroke="#fff" stroke-width="0.1" vector-effect="non-scaling-stroke">2</text>
<text transform="matrix(0.17231 0.0004 0 0.18429 71.001 104.64)" font-family="Liberation Serif, serif" stroke="#fff" stroke-width="0.1" vector-effect="non-scaling-stroke">3</text>
<text transform="matrix(0.17231 0.0004 0 0.18429 70.657 70.705)" font-family="Liberation Serif, serif" stroke="#fff" stroke-width="0.1" vector-effect="non-scaling-stroke">4</text>
<text transform="matrix(0.17231 0.0004 0 0.18429 71.001 36.768)" font-family="Liberation Serif, serif" stroke="#fff" stroke-width="0.1" vector-effect="non-scaling-stroke">5</text>
<text transform="matrix(0.17231 0.0004 0 0.18429 71.001 421.5)" font-family="Liberation Serif, serif" stroke="#fff" stroke-width="0.1" vector-effect="non-scaling-stroke">0</text>
<text transform="matrix(0.17231 0.0004 0 0.18429 58.478 346.95)" font-family="Liberation Serif, serif" stroke="#fff" stroke-width="0.1" vector-effect="non-scaling-stroke">0.5</text>
<text transform="matrix(0.17231 0.0004 0 0.18429 70.918 272.4)" font-family="Liberation Serif, serif" stroke="#fff" stroke-width="0.1" vector-effect="non-scaling-stroke">1</text>
<text transform="matrix(0.17231 0.0004 0 0.18429 220.34 436.7)" font-family="Liberation Serif, serif" stroke="#fff" stroke-width="0.1" vector-effect="non-scaling-stroke">0</text>
<text transform="matrix(0.17231 0.0004 0 0.18429 290.48 436.7)" font-family="Liberation Serif, serif" stroke="#fff" stroke-width="0.1" vector-effect="non-scaling-stroke">2</text>
<text transform="matrix(0.17231 0.0004 0 0.18429 360.44 436.7)" font-family="Liberation Serif, serif" stroke="#fff" stroke-width="0.1" vector-effect="non-scaling-stroke">4</text>
<text transform="matrix(0.17231 0.0004 0 0.18429 86.842 436.7)" font-family="Liberation Serif, serif" stroke="#fff" stroke-width="0.1" vector-effect="non-scaling-stroke">4</text>
<text transform="matrix(0.17231 0.0004 0 0.18429 156.98 436.7)" font-family="Liberation Serif, serif" stroke="#fff" stroke-width="0.1" vector-effect="non-scaling-stroke">2</text>
<text transform="matrix(0.2 0.0004 0 0.23696 96.7 39.287)" font-family="Liberation Serif, serif" stroke="#fff" stroke-width="0.16" vector-effect="non-scaling-stroke">(</text>
<text transform="matrix(0.24878 0.0004 0 0.21875 103.95 39.081)" font-family="Liberation Serif, serif" stroke="#fff" stroke-width="0.16" vector-effect="non-scaling-stroke">a</text>
<text transform="matrix(0.20769 0.0004 0 0.23696 115.08 39.287)" font-family="Liberation Serif, serif" stroke="#fff" stroke-width="0.16" vector-effect="non-scaling-stroke">)</text>
<text transform="matrix(0.2 0.0004 0 0.23696 96.5 254.59)" font-family="Liberation Serif, serif" stroke="#fff" stroke-width="0.16" vector-effect="non-scaling-stroke">(</text>
<text transform="matrix(0.2383 0.0004 0 0.22286 103.8 254.68)" font-family="Liberation Serif, serif" stroke="#fff" stroke-width="0.16" vector-effect="non-scaling-stroke">b</text>
<text transform="matrix(0.20769 0.0004 0 0.23696 115.38 254.59)" font-family="Liberation Serif, serif" stroke="#fff" stroke-width="0.16" vector-effect="non-scaling-stroke">)</text>
<text transform="matrix(0.14167 0.0004 0 0.15441 286.4 40.057)" font-family="Liberation Serif, serif" font-style="italic" stroke="#000" stroke-width="0.14" vector-effect="non-scaling-stroke">g</text>
<text transform="matrix(0.1037 0.0004 0 0.11739 293.69 32.217)" font-family="Liberation Serif, serif" stroke="#000" stroke-width="0.14" vector-effect="non-scaling-stroke">(</text>
<text transform="matrix(0.11707 0.0004 0 0.091791 297.83 32.058)" font-family="Liberation Serif, serif" stroke="#000" stroke-width="0.14" vector-effect="non-scaling-stroke">2</text>
<text transform="matrix(0.10769 0.0004 0 0.11739 304.28 32.217)" font-family="Liberation Serif, serif" stroke="#000" stroke-width="0.14" vector-effect="non-scaling-stroke">)</text>
<text transform="matrix(0.14167 0.0004 0 0.15441 286.4 72.857)" font-family="Liberation Serif, serif" font-style="italic" stroke="#000" stroke-width="0.14" vector-effect="non-scaling-stroke">g</text>
<text transform="matrix(0.1037 0.0004 0 0.11739 293.69 65.017)" font-family="Liberation Serif, serif" stroke="#000" stroke-width="0.14" vector-effect="non-scaling-stroke">(</text>
<text transform="matrix(0.11707 0.0004 0 0.091791 297.83 64.858)" font-family="Liberation Serif, serif" stroke="#000" stroke-width="0.14" vector-effect="non-scaling-stroke">2</text>
<text transform="matrix(0.10769 0.0004 0 0.11739 304.28 65.017)" font-family="Liberation Serif, serif" stroke="#000" stroke-width="0.14" vector-effect="non-scaling-stroke">)</text>
<text transform="matrix(0.20465 0.0004 0 0.16042 289.39 256.74)" font-family="Liberation Serif, serif" font-style="italic" stroke="#000" stroke-width="0.14" vector-effect="non-scaling-stroke">n</text>
<text transform="matrix(0.20465 0.0004 0 0.16042 289.39 285.64)" font-family="Liberation Serif, serif" font-style="italic" stroke="#000" stroke-width="0.14" vector-effect="non-scaling-stroke">n</text>
<text transform="matrix(0.0004 -0.18958 0.20294 0 53.938 136.7)" font-family="Liberation Serif, serif" font-style="italic" stroke="#fff" stroke-width="0.16" vector-effect="non-scaling-stroke">g</text>
<text transform="matrix(0.0004 -0.14815 0.16141 0 45.199 125.89)" font-family="Liberation Serif, serif" stroke="#000" stroke-width="0.14" vector-effect="non-scaling-stroke">(</text>
<text transform="matrix(0.0004 -0.1561 0.15373 0 45.146 120.92)" font-family="Liberation Serif, serif" stroke="#000" stroke-width="0.14" vector-effect="non-scaling-stroke">2</text>
<text transform="matrix(0.0004 -0.15385 0.16141 0 45.199 112.86)" font-family="Liberation Serif, serif" stroke="#000" stroke-width="0.14" vector-effect="non-scaling-stroke">)</text>
<text transform="matrix(0.0004 -0.15686 0.13019 0 59.17 127.21)" font-family="Liberation Serif, serif" font-style="italic" stroke="#000" stroke-width="0.14" vector-effect="non-scaling-stroke">σ</text>
<text transform="matrix(0.0004 -0.15686 0.13019 0 59.17 118.31)" font-family="Liberation Serif, serif" font-style="italic" stroke="#000" stroke-width="0.14" vector-effect="non-scaling-stroke">σ</text>
<text transform="matrix(0.0004 -0.2 0.2413 0 53.891 105)" font-family="Liberation Serif, serif" stroke="#fff" stroke-width="0.16" vector-effect="non-scaling-stroke">(</text>
<text transform="matrix(0.0004 -0.19659 0.21765 0 53.465 98.09)" font-family="Liberation Serif, serif" stroke="#fff" stroke-width="0.16" vector-effect="non-scaling-stroke">0</text>
<text transform="matrix(0.0004 -0.20769 0.2413 0 53.891 87.723)" font-family="Liberation Serif, serif" stroke="#fff" stroke-width="0.16" vector-effect="non-scaling-stroke">)</text>
<text transform="matrix(0.0004 -0.25814 0.2125 0 40.688 362.87)" font-family="Liberation Serif, serif" font-style="italic" stroke="#fff" stroke-width="0.16" vector-effect="non-scaling-stroke">n</text>
<text transform="matrix(0.0004 -0.15098 0.12642 0 43.574 350)" font-family="Liberation Serif, serif" font-style="italic" stroke="#000" stroke-width="0.14" vector-effect="non-scaling-stroke">σ</text>
<text transform="matrix(0.0004 -0.175 0.22424 0 40.4 314.1)" font-family="Liberation Serif, serif" stroke="#fff" stroke-width="0.16" vector-effect="non-scaling-stroke">1</text>
<text transform="matrix(0.0004 -0.23182 0.23088 0 40.338 304.5)" font-family="Liberation Serif, serif" stroke="#fff" stroke-width="0.16" vector-effect="non-scaling-stroke">0</text>
<text transform="matrix(0.0004 -0.15104 0.15152 0 31.548 293.6)" font-family="Liberation Serif, serif" stroke="#000" stroke-width="0.14" vector-effect="non-scaling-stroke">4</text>
</g>
<line x1="74.05" y1="432.40" x2="85.05" y2="432.40" stroke="#000" stroke-width="0.85"/>
<line x1="144.10" y1="432.40" x2="155.10" y2="432.40" stroke="#000" stroke-width="0.85"/>
<line x1="261.10" y1="36.30" x2="280.20" y2="36.30" stroke="#ff0000" stroke-width="1.4"/>
<line x1="261.10" y1="68.90" x2="280.20" y2="68.90" stroke="#0000ff" stroke-width="1.4"/>
<line x1="265.10" y1="251.90" x2="283.90" y2="251.90" stroke="#ff0000" stroke-width="1.4"/>
<line x1="265.10" y1="281.10" x2="283.90" y2="281.10" stroke="#0000ff" stroke-width="1.4"/>
<path d="M296.0,46.5 V37.0 M293.7,39.5 Q295.7,38.5 296.0,37.0 Q296.3,38.5 298.3,39.5" fill="none" stroke="#000" stroke-width="0.75"/>
<path d="M301.5,46.5 V37.0 M299.2,39.5 Q301.2,38.5 301.5,37.0 Q301.8,38.5 303.8,39.5" fill="none" stroke="#000" stroke-width="0.75"/>
<path d="M296.0,69.8 V78.7 M293.7,76.2 Q295.7,77.2 296.0,78.7 Q296.3,77.2 298.3,76.2" fill="none" stroke="#000" stroke-width="0.75"/>
<path d="M301.5,69.8 V78.7 M299.2,76.2 Q301.2,77.2 301.5,78.7 Q301.8,77.2 303.8,76.2" fill="none" stroke="#000" stroke-width="0.75"/>
<path d="M301.5,260.9 V251.7 M299.15,254.89999999999998 Q301.2,253.61999999999998 301.5,251.7 Q301.8,253.61999999999998 303.85,254.89999999999998" fill="none" stroke="#000" stroke-width="0.75"/>
<path d="M301.5,280.0 V289.4 M299.15,286.2 Q301.2,287.47999999999996 301.5,289.4 Q301.8,287.47999999999996 303.85,286.2" fill="none" stroke="#000" stroke-width="0.75"/>
<line x1="291.40" y1="247.10" x2="296.80" y2="247.10" stroke="#000" stroke-width="0.62"/>
<line x1="291.40" y1="275.90" x2="296.80" y2="275.90" stroke="#000" stroke-width="0.62"/>
<line x1="26.55" y1="352.70" x2="26.55" y2="360.00" stroke="#000" stroke-width="0.9"/>
<path d="M29.2,322.2 L40.0,332.6 M40.0,322.2 L29.2,332.6" stroke="#000" stroke-width="0.95" fill="none"/>
<line x1="199.30" y1="464.85" x2="212.10" y2="464.85" stroke="#000" stroke-width="0.85"/>
<path d="M221.6,455.2 L214.5,469.5 H229.1 Z M220.7,458.4 L216.0,468.4 H225.6 Z" fill="#000" fill-rule="evenodd"/>
<g fill="none" stroke="#000" stroke-linecap="round"><path d="M239.9,464.9 C240.9,462.5 242.3,461.4 243.7,461.4 C245.7,461.4 246.9,464.2 247.3,468.6" stroke-width="1.25"/><path d="M250.6,461.2 C249.2,464.2 247.2,469 245.9,473.7" stroke-width="0.95"/><path d="M247.2,468.4 L245.95,473.6" stroke-width="1.45"/></g>
<line x1="238.90" y1="454.40" x2="231.20" y2="474.90" stroke="#000" stroke-width="0.95"/>
</svg>
</body></html>
